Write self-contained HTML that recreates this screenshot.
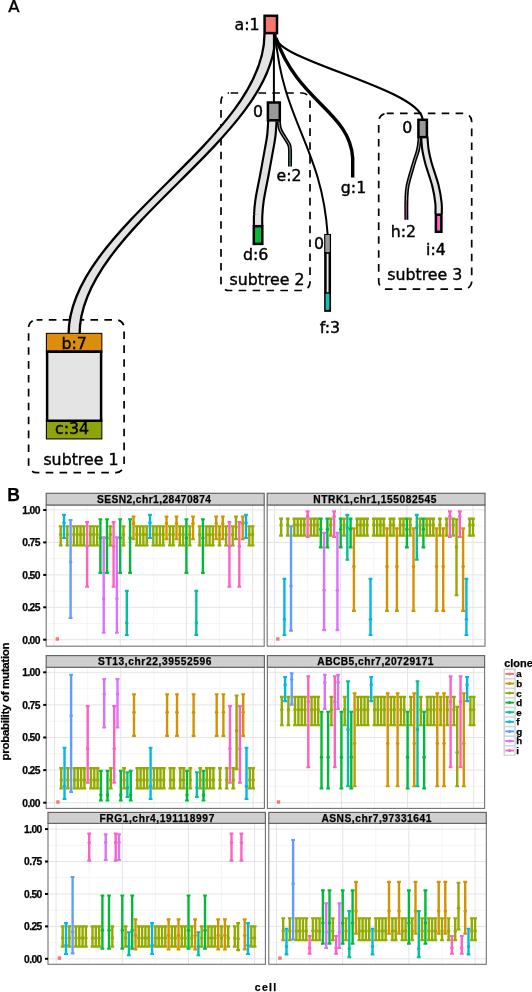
<!DOCTYPE html>
<html><head><meta charset="utf-8"><style>
html,body{margin:0;padding:0;background:#fff;}
svg{display:block;}
</style></head><body>
<svg width="532" height="992" viewBox="0 0 532 992">
<rect width="532" height="992" fill="#fff"/>
<g id="tree">
<rect x="221" y="93" width="89" height="197.5" rx="8" style="fill:none;stroke:#000;stroke-width:1.7;stroke-dasharray:7.6,6.3;stroke-dashoffset:12.3"/>
<rect x="378.7" y="113.4" width="93" height="175.8" rx="8" style="fill:none;stroke:#000;stroke-width:1.7;stroke-dasharray:7.6,6.3;stroke-dashoffset:0.6"/>
<rect x="28.6" y="319.8" width="95.5" height="152.8" rx="8" style="fill:none;stroke:#000;stroke-width:1.7;stroke-dasharray:7.6,6.3;stroke-dashoffset:1.7"/>
<path d="M264.5,34.0 C264.5,138.9 68.6,227.7 68.6,334.0 L79.6,334.0 C79.6,227.7 275.5,138.9 275.5,34.0 Z" style="fill:#e3e3e3;stroke:none"/>
<path d="M264.5,34.0 C264.5,138.9 68.6,227.7 68.6,334.0" style="fill:none;stroke:#000;stroke-width:2.3"/>
<path d="M275.5,34.0 C275.5,138.9 79.6,227.7 79.6,334.0" style="fill:none;stroke:#000;stroke-width:2.3"/>
<path d="M272.4,121.0 C272.2,123.3 271.9,130.4 271.4,135.0 C270.9,139.6 270.4,141.8 269.2,148.4 C268.0,155.0 266.0,166.1 264.4,174.7 C262.8,183.3 260.6,193.3 259.6,200.0 C258.6,206.7 258.4,210.7 258.2,215.0 C257.9,219.3 258.1,224.2 258.1,226.0" style="fill:none;stroke:#000;stroke-width:10.5"/>
<path d="M272.4,121.0 C272.2,123.3 271.9,130.4 271.4,135.0 C270.9,139.6 270.4,141.8 269.2,148.4 C268.0,155.0 266.0,166.1 264.4,174.7 C262.8,183.3 260.6,193.3 259.6,200.0 C258.6,206.7 258.4,210.7 258.2,215.0 C257.9,219.3 258.1,224.2 258.1,226.0" style="fill:none;stroke:#e3e3e3;stroke-width:6.2"/>
<path d="M424.3,137.0 C424.5,139.2 424.8,145.7 425.5,150.0 C426.2,154.3 426.8,157.1 428.4,163.0 C430.0,168.9 433.7,178.9 435.4,185.6 C437.1,192.3 438.0,198.6 438.5,203.3 C439.0,208.0 438.6,212.2 438.6,214.0" style="fill:none;stroke:#000;stroke-width:8.4"/>
<path d="M424.3,137.0 C424.5,139.2 424.8,145.7 425.5,150.0 C426.2,154.3 426.8,157.1 428.4,163.0 C430.0,168.9 433.7,178.9 435.4,185.6 C437.1,192.3 438.0,198.6 438.5,203.3 C439.0,208.0 438.6,212.2 438.6,214.0" style="fill:none;stroke:#e3e3e3;stroke-width:4.2"/>
<path d="M419.8,137.0 C419.5,139.2 419.0,145.7 418.0,150.0 C417.0,154.3 415.6,157.1 413.9,163.0 C412.2,168.9 408.9,179.3 407.6,185.6 C406.4,191.9 406.6,195.1 406.4,200.8 C406.2,206.5 406.4,216.5 406.4,219.7" style="fill:none;stroke:#000;stroke-width:4"/>
<path d="M419.8,137.0 C419.5,139.2 419.0,145.7 418.0,150.0 C417.0,154.3 415.6,157.1 413.9,163.0 C412.2,168.9 408.9,179.3 407.6,185.6 C406.4,191.9 406.6,195.1 406.4,200.8 C406.2,206.5 406.4,216.5 406.4,219.7" style="fill:none;stroke:#e8e8e8;stroke-width:0.7"/>
<line x1="406.4" y1="201" x2="406.4" y2="219" style="stroke:#9a3c78;stroke-width:1"/>
<path d="M278.8,121.0 C279.0,122.3 279.1,126.3 280.0,129.0 C280.9,131.7 283.0,134.4 284.5,137.0 C286.0,139.6 288.1,142.3 289.0,144.5 C289.9,146.7 289.8,146.3 290.0,150.0 C290.2,153.7 290.0,163.8 290.0,166.6" style="fill:none;stroke:#000;stroke-width:4"/>
<path d="M278.8,121.0 C279.0,122.3 279.1,126.3 280.0,129.0 C280.9,131.7 283.0,134.4 284.5,137.0 C286.0,139.6 288.1,142.3 289.0,144.5 C289.9,146.7 289.8,146.3 290.0,150.0 C290.2,153.7 290.0,163.8 290.0,166.6" style="fill:none;stroke:#e8e8e8;stroke-width:0.7"/>
<line x1="290" y1="149" x2="290" y2="165.5" style="stroke:#1a6a38;stroke-width:0.8"/>
<line x1="273.9" y1="34" x2="273.9" y2="102" style="stroke:#000;stroke-width:2"/>
<path d="M275.5,36 C282.7,121.8 321.6,147.2 327.6,234" style="fill:none;stroke:#000;stroke-width:2"/>
<path d="M276,38 C298,102.6 349.9,111.6 352.7,158 L352.7,177.5" style="fill:none;stroke:#000;stroke-width:3.4"/>
<path d="M276.5,38 C276.5,60.1 419,88.9 422.5,119" style="fill:none;stroke:#000;stroke-width:2.2"/>
<rect x="264.6" y="15.8" width="12.4" height="17.3" style="fill:#F8766D;stroke:#000;stroke-width:2.5"/>
<rect x="267.9" y="102.5" width="11.9" height="17.8" style="fill:#999999;stroke:#000;stroke-width:2.5"/>
<rect x="418.4" y="119.8" width="8.5" height="17.3" style="fill:#999999;stroke:#000;stroke-width:2.5"/>
<rect x="253.8" y="226.2" width="8.5" height="17.7" style="fill:#00BA38;stroke:#000;stroke-width:2.5"/>
<rect x="435.9" y="214.7" width="5.5" height="17.1" style="fill:#FF61C3;stroke:#000;stroke-width:2.5"/>
<rect x="325.4" y="235.2" width="4.4" height="75.4" style="fill:#e8e8e8;stroke:#000;stroke-width:2.5"/>
<rect x="325.3" y="235" width="4.5" height="17" style="fill:#999"/>
<line x1="324.1" y1="253" x2="331" y2="253" style="stroke:#000;stroke-width:1.6"/>
<line x1="324.1" y1="293" x2="331" y2="293" style="stroke:#000;stroke-width:1.6"/>
<rect x="325.6" y="293.8" width="3.8" height="16" style="fill:#17bfb2"/>
<rect x="47.1" y="334.1" width="54.0" height="104.1" style="fill:#e4e4e4;stroke:#000;stroke-width:2.5"/>
<rect x="46.9" y="333.8" width="54.5" height="17.2" style="fill:#DB8E0B"/>
<line x1="45.9" y1="351.6" x2="102.4" y2="351.6" style="stroke:#000;stroke-width:2.6"/>
<rect x="46.9" y="421.6" width="54.5" height="16.8" style="fill:#8FA40A"/>
<line x1="45.9" y1="420.8" x2="102.4" y2="420.8" style="stroke:#000;stroke-width:2.6"/>
<text x="8.3" y="12.3" text-anchor="start" style="font-family:'DejaVu Sans',sans-serif;font-size:16.5px;stroke:#000;stroke-width:0.4">A</text>
<text x="234.5" y="30" text-anchor="start" style="font-family:'DejaVu Sans',sans-serif;font-size:15.8px;fill:#000;stroke:#000;stroke-width:0.4">a:1</text>
<text x="253" y="116.5" text-anchor="start" style="font-family:'DejaVu Sans',sans-serif;font-size:15.8px;fill:#000;stroke:#000;stroke-width:0.4">0</text>
<text x="276.5" y="180.8" text-anchor="start" style="font-family:'DejaVu Sans',sans-serif;font-size:15.8px;fill:#000;stroke:#000;stroke-width:0.4">e:2</text>
<text x="340.8" y="193" text-anchor="start" style="font-family:'DejaVu Sans',sans-serif;font-size:15.8px;fill:#000;stroke:#000;stroke-width:0.4">g:1</text>
<text x="243" y="260" text-anchor="start" style="font-family:'DejaVu Sans',sans-serif;font-size:15.8px;fill:#000;stroke:#000;stroke-width:0.4">d:6</text>
<text x="229.5" y="284.7" text-anchor="start" style="font-family:'DejaVu Sans',sans-serif;font-size:15.8px;fill:#000;stroke:#000;stroke-width:0.4">subtree 2</text>
<text x="314" y="249" text-anchor="start" style="font-family:'DejaVu Sans',sans-serif;font-size:15.8px;fill:#000;stroke:#000;stroke-width:0.4">0</text>
<text x="319.8" y="332.6" text-anchor="start" style="font-family:'DejaVu Sans',sans-serif;font-size:15.8px;fill:#000;stroke:#000;stroke-width:0.4">f:3</text>
<text x="402.2" y="133.2" text-anchor="start" style="font-family:'DejaVu Sans',sans-serif;font-size:15.8px;fill:#000;stroke:#000;stroke-width:0.4">0</text>
<text x="390.7" y="236.5" text-anchor="start" style="font-family:'DejaVu Sans',sans-serif;font-size:15.8px;fill:#000;stroke:#000;stroke-width:0.4">h:2</text>
<text x="426" y="255" text-anchor="start" style="font-family:'DejaVu Sans',sans-serif;font-size:15.8px;fill:#000;stroke:#000;stroke-width:0.4">i:4</text>
<text x="387.2" y="279.5" text-anchor="start" style="font-family:'DejaVu Sans',sans-serif;font-size:15.8px;fill:#000;stroke:#000;stroke-width:0.4">subtree 3</text>
<text x="61.4" y="348.7" text-anchor="start" style="font-family:'DejaVu Sans',sans-serif;font-size:15.8px;fill:#000;stroke:#000;stroke-width:0.4">b:7</text>
<text x="55" y="434.2" text-anchor="start" style="font-family:'DejaVu Sans',sans-serif;font-size:15.8px;fill:#000;stroke:#000;stroke-width:0.4">c:34</text>
<text x="43.4" y="464.7" text-anchor="start" style="font-family:'DejaVu Sans',sans-serif;font-size:15.8px;fill:#000;stroke:#000;stroke-width:0.4">subtree 1</text>
</g>
<g id="panelB">
<text x="7.2" y="500.6" style="font-family:'Liberation Sans',Arial,sans-serif;font-weight:bold;fill:#000;stroke:#000;stroke-width:0.25;font-size:17.5px">B</text>
<rect x="46.2" y="505.0" width="218.0" height="141.2" fill="#fff"/>
<line x1="46.2" x2="264.2" y1="623.5" y2="623.5" stroke="#f4f4f4" stroke-width="0.9"/><line x1="46.2" x2="264.2" y1="591.1" y2="591.1" stroke="#f4f4f4" stroke-width="0.9"/><line x1="46.2" x2="264.2" y1="558.6" y2="558.6" stroke="#f4f4f4" stroke-width="0.9"/><line x1="46.2" x2="264.2" y1="526.2" y2="526.2" stroke="#f4f4f4" stroke-width="0.9"/><line y1="505.0" y2="646.2" x1="87.1" x2="87.1" stroke="#f4f4f4" stroke-width="0.9"/><line y1="505.0" y2="646.2" x1="153.3" x2="153.3" stroke="#f4f4f4" stroke-width="0.9"/><line y1="505.0" y2="646.2" x1="219.5" x2="219.5" stroke="#f4f4f4" stroke-width="0.9"/><line x1="46.2" x2="264.2" y1="639.7" y2="639.7" stroke="#e4e4e4" stroke-width="1"/><line x1="46.2" x2="264.2" y1="607.3" y2="607.3" stroke="#e4e4e4" stroke-width="1"/><line x1="46.2" x2="264.2" y1="574.9" y2="574.9" stroke="#e4e4e4" stroke-width="1"/><line x1="46.2" x2="264.2" y1="542.4" y2="542.4" stroke="#e4e4e4" stroke-width="1"/><line x1="46.2" x2="264.2" y1="510.0" y2="510.0" stroke="#e4e4e4" stroke-width="1"/><line y1="505.0" y2="646.2" x1="54.0" x2="54.0" stroke="#e4e4e4" stroke-width="1"/><line y1="505.0" y2="646.2" x1="120.2" x2="120.2" stroke="#e4e4e4" stroke-width="1"/><line y1="505.0" y2="646.2" x1="186.4" x2="186.4" stroke="#e4e4e4" stroke-width="1"/><line y1="505.0" y2="646.2" x1="252.6" x2="252.6" stroke="#e4e4e4" stroke-width="1"/>
<rect x="55.6" y="637.3" width="3.4" height="3.4" fill="#F8766D"/><path d="M60.7,526.3V545.5" stroke="#93AA00" fill="none" stroke-width="2.4"/><path d="M58.8,526.3h3.8M58.8,545.5h3.8" stroke="#93AA00" fill="none" stroke-width="2.1"/><circle cx="60.7" cy="534.6" r="1.75" fill="#93AA00"/><path d="M64.0,514.9V538.0" stroke="#00B9E3" fill="none" stroke-width="2.4"/><path d="M62.1,514.9h3.8M62.1,538.0h3.8" stroke="#00B9E3" fill="none" stroke-width="2.1"/><circle cx="64.0" cy="522.8" r="1.75" fill="#00B9E3"/><path d="M67.3,526.3V545.5" stroke="#93AA00" fill="none" stroke-width="2.4"/><path d="M65.4,526.3h3.8M65.4,545.5h3.8" stroke="#93AA00" fill="none" stroke-width="2.1"/><circle cx="67.3" cy="534.6" r="1.75" fill="#93AA00"/><path d="M70.6,520.0V617.9" stroke="#619CFF" fill="none" stroke-width="2.4"/><path d="M68.7,520.0h3.8M68.7,617.9h3.8" stroke="#619CFF" fill="none" stroke-width="2.1"/><circle cx="70.6" cy="561.9" r="1.75" fill="#619CFF"/><path d="M73.9,526.3V545.5" stroke="#93AA00" fill="none" stroke-width="2.4"/><path d="M72.0,526.3h3.8M72.0,545.5h3.8" stroke="#93AA00" fill="none" stroke-width="2.1"/><circle cx="73.9" cy="534.6" r="1.75" fill="#93AA00"/><path d="M77.2,526.3V545.5" stroke="#93AA00" fill="none" stroke-width="2.4"/><path d="M75.3,526.3h3.8M75.3,545.5h3.8" stroke="#93AA00" fill="none" stroke-width="2.1"/><circle cx="77.2" cy="534.6" r="1.75" fill="#93AA00"/><path d="M80.5,526.3V545.5" stroke="#93AA00" fill="none" stroke-width="2.4"/><path d="M78.6,526.3h3.8M78.6,545.5h3.8" stroke="#93AA00" fill="none" stroke-width="2.1"/><circle cx="80.5" cy="534.6" r="1.75" fill="#93AA00"/><path d="M83.8,526.3V545.5" stroke="#93AA00" fill="none" stroke-width="2.4"/><path d="M81.9,526.3h3.8M81.9,545.5h3.8" stroke="#93AA00" fill="none" stroke-width="2.1"/><circle cx="83.8" cy="534.6" r="1.75" fill="#93AA00"/><path d="M87.1,522.1V586.8" stroke="#FF61C3" fill="none" stroke-width="2.4"/><path d="M85.2,522.1h3.8M85.2,586.8h3.8" stroke="#FF61C3" fill="none" stroke-width="2.1"/><circle cx="87.1" cy="546.3" r="1.75" fill="#FF61C3"/><path d="M90.4,526.3V545.5" stroke="#93AA00" fill="none" stroke-width="2.4"/><path d="M88.5,526.3h3.8M88.5,545.5h3.8" stroke="#93AA00" fill="none" stroke-width="2.1"/><circle cx="90.4" cy="534.6" r="1.75" fill="#93AA00"/><path d="M93.7,526.3V545.5" stroke="#93AA00" fill="none" stroke-width="2.4"/><path d="M91.8,526.3h3.8M91.8,545.5h3.8" stroke="#93AA00" fill="none" stroke-width="2.1"/><circle cx="93.7" cy="534.6" r="1.75" fill="#93AA00"/><path d="M97.1,526.3V545.5" stroke="#93AA00" fill="none" stroke-width="2.4"/><path d="M95.2,526.3h3.8M95.2,545.5h3.8" stroke="#93AA00" fill="none" stroke-width="2.1"/><circle cx="97.1" cy="534.6" r="1.75" fill="#93AA00"/><path d="M100.4,519.2V572.9" stroke="#00BA38" fill="none" stroke-width="2.4"/><path d="M98.5,519.2h3.8M98.5,572.9h3.8" stroke="#00BA38" fill="none" stroke-width="2.1"/><circle cx="100.4" cy="538.0" r="1.75" fill="#00BA38"/><path d="M103.7,537.4V632.8" stroke="#DB72FB" fill="none" stroke-width="2.4"/><path d="M101.8,537.4h3.8M101.8,632.8h3.8" stroke="#DB72FB" fill="none" stroke-width="2.1"/><circle cx="103.7" cy="598.8" r="1.75" fill="#DB72FB"/><path d="M107.0,519.2V572.9" stroke="#00BA38" fill="none" stroke-width="2.4"/><path d="M105.1,519.2h3.8M105.1,572.9h3.8" stroke="#00BA38" fill="none" stroke-width="2.1"/><circle cx="107.0" cy="538.0" r="1.75" fill="#00BA38"/><path d="M110.3,526.3V545.5" stroke="#93AA00" fill="none" stroke-width="2.4"/><path d="M108.4,526.3h3.8M108.4,545.5h3.8" stroke="#93AA00" fill="none" stroke-width="2.1"/><circle cx="110.3" cy="534.6" r="1.75" fill="#93AA00"/><path d="M113.6,522.1V586.8" stroke="#FF61C3" fill="none" stroke-width="2.4"/><path d="M111.7,522.1h3.8M111.7,586.8h3.8" stroke="#FF61C3" fill="none" stroke-width="2.1"/><circle cx="113.6" cy="546.3" r="1.75" fill="#FF61C3"/><path d="M116.9,537.4V632.8" stroke="#DB72FB" fill="none" stroke-width="2.4"/><path d="M115.0,537.4h3.8M115.0,632.8h3.8" stroke="#DB72FB" fill="none" stroke-width="2.1"/><circle cx="116.9" cy="598.8" r="1.75" fill="#DB72FB"/><path d="M120.2,519.2V572.9" stroke="#00BA38" fill="none" stroke-width="2.4"/><path d="M118.3,519.2h3.8M118.3,572.9h3.8" stroke="#00BA38" fill="none" stroke-width="2.1"/><circle cx="120.2" cy="538.0" r="1.75" fill="#00BA38"/><path d="M123.5,526.3V545.5" stroke="#93AA00" fill="none" stroke-width="2.4"/><path d="M121.6,526.3h3.8M121.6,545.5h3.8" stroke="#93AA00" fill="none" stroke-width="2.1"/><circle cx="123.5" cy="534.6" r="1.75" fill="#93AA00"/><path d="M126.8,590.9V635.0" stroke="#00C19F" fill="none" stroke-width="2.4"/><path d="M124.9,590.9h3.8M124.9,635.0h3.8" stroke="#00C19F" fill="none" stroke-width="2.1"/><circle cx="126.8" cy="623.0" r="1.75" fill="#00C19F"/><path d="M130.1,519.2V572.9" stroke="#00BA38" fill="none" stroke-width="2.4"/><path d="M128.2,519.2h3.8M128.2,572.9h3.8" stroke="#00BA38" fill="none" stroke-width="2.1"/><circle cx="130.1" cy="538.0" r="1.75" fill="#00BA38"/><path d="M133.5,516.5V539.2" stroke="#D39200" fill="none" stroke-width="2.4"/><path d="M131.6,516.5h3.8M131.6,539.2h3.8" stroke="#D39200" fill="none" stroke-width="2.1"/><circle cx="133.5" cy="523.5" r="1.75" fill="#D39200"/><path d="M136.8,526.3V545.5" stroke="#93AA00" fill="none" stroke-width="2.4"/><path d="M134.9,526.3h3.8M134.9,545.5h3.8" stroke="#93AA00" fill="none" stroke-width="2.1"/><circle cx="136.8" cy="534.6" r="1.75" fill="#93AA00"/><path d="M140.1,526.3V545.5" stroke="#93AA00" fill="none" stroke-width="2.4"/><path d="M138.2,526.3h3.8M138.2,545.5h3.8" stroke="#93AA00" fill="none" stroke-width="2.1"/><circle cx="140.1" cy="534.6" r="1.75" fill="#93AA00"/><path d="M143.4,526.3V545.5" stroke="#93AA00" fill="none" stroke-width="2.4"/><path d="M141.5,526.3h3.8M141.5,545.5h3.8" stroke="#93AA00" fill="none" stroke-width="2.1"/><circle cx="143.4" cy="534.6" r="1.75" fill="#93AA00"/><path d="M146.7,526.3V545.5" stroke="#93AA00" fill="none" stroke-width="2.4"/><path d="M144.8,526.3h3.8M144.8,545.5h3.8" stroke="#93AA00" fill="none" stroke-width="2.1"/><circle cx="146.7" cy="534.6" r="1.75" fill="#93AA00"/><path d="M150.0,514.9V538.0" stroke="#00B9E3" fill="none" stroke-width="2.4"/><path d="M148.1,514.9h3.8M148.1,538.0h3.8" stroke="#00B9E3" fill="none" stroke-width="2.1"/><circle cx="150.0" cy="522.8" r="1.75" fill="#00B9E3"/><path d="M153.3,526.3V545.5" stroke="#93AA00" fill="none" stroke-width="2.4"/><path d="M151.4,526.3h3.8M151.4,545.5h3.8" stroke="#93AA00" fill="none" stroke-width="2.1"/><circle cx="153.3" cy="534.6" r="1.75" fill="#93AA00"/><path d="M156.6,526.3V545.5" stroke="#93AA00" fill="none" stroke-width="2.4"/><path d="M154.7,526.3h3.8M154.7,545.5h3.8" stroke="#93AA00" fill="none" stroke-width="2.1"/><circle cx="156.6" cy="534.6" r="1.75" fill="#93AA00"/><path d="M159.9,526.3V545.5" stroke="#93AA00" fill="none" stroke-width="2.4"/><path d="M158.0,526.3h3.8M158.0,545.5h3.8" stroke="#93AA00" fill="none" stroke-width="2.1"/><circle cx="159.9" cy="534.6" r="1.75" fill="#93AA00"/><path d="M163.2,526.3V545.5" stroke="#93AA00" fill="none" stroke-width="2.4"/><path d="M161.3,526.3h3.8M161.3,545.5h3.8" stroke="#93AA00" fill="none" stroke-width="2.1"/><circle cx="163.2" cy="534.6" r="1.75" fill="#93AA00"/><path d="M166.5,516.5V539.2" stroke="#D39200" fill="none" stroke-width="2.4"/><path d="M164.6,516.5h3.8M164.6,539.2h3.8" stroke="#D39200" fill="none" stroke-width="2.1"/><circle cx="166.5" cy="523.5" r="1.75" fill="#D39200"/><path d="M169.9,526.3V545.5" stroke="#93AA00" fill="none" stroke-width="2.4"/><path d="M168.0,526.3h3.8M168.0,545.5h3.8" stroke="#93AA00" fill="none" stroke-width="2.1"/><circle cx="169.9" cy="534.6" r="1.75" fill="#93AA00"/><path d="M173.2,526.3V545.5" stroke="#93AA00" fill="none" stroke-width="2.4"/><path d="M171.3,526.3h3.8M171.3,545.5h3.8" stroke="#93AA00" fill="none" stroke-width="2.1"/><circle cx="173.2" cy="534.6" r="1.75" fill="#93AA00"/><path d="M176.5,516.5V539.2" stroke="#D39200" fill="none" stroke-width="2.4"/><path d="M174.6,516.5h3.8M174.6,539.2h3.8" stroke="#D39200" fill="none" stroke-width="2.1"/><circle cx="176.5" cy="523.5" r="1.75" fill="#D39200"/><path d="M179.8,526.3V545.5" stroke="#93AA00" fill="none" stroke-width="2.4"/><path d="M177.9,526.3h3.8M177.9,545.5h3.8" stroke="#93AA00" fill="none" stroke-width="2.1"/><circle cx="179.8" cy="534.6" r="1.75" fill="#93AA00"/><path d="M183.1,526.3V545.5" stroke="#93AA00" fill="none" stroke-width="2.4"/><path d="M181.2,526.3h3.8M181.2,545.5h3.8" stroke="#93AA00" fill="none" stroke-width="2.1"/><circle cx="183.1" cy="534.6" r="1.75" fill="#93AA00"/><path d="M186.4,519.2V572.9" stroke="#00BA38" fill="none" stroke-width="2.4"/><path d="M184.5,519.2h3.8M184.5,572.9h3.8" stroke="#00BA38" fill="none" stroke-width="2.1"/><circle cx="186.4" cy="538.0" r="1.75" fill="#00BA38"/><path d="M189.7,526.3V545.5" stroke="#93AA00" fill="none" stroke-width="2.4"/><path d="M187.8,526.3h3.8M187.8,545.5h3.8" stroke="#93AA00" fill="none" stroke-width="2.1"/><circle cx="189.7" cy="534.6" r="1.75" fill="#93AA00"/><path d="M193.0,516.5V539.2" stroke="#D39200" fill="none" stroke-width="2.4"/><path d="M191.1,516.5h3.8M191.1,539.2h3.8" stroke="#D39200" fill="none" stroke-width="2.1"/><circle cx="193.0" cy="523.5" r="1.75" fill="#D39200"/><path d="M196.3,590.9V635.0" stroke="#00C19F" fill="none" stroke-width="2.4"/><path d="M194.4,590.9h3.8M194.4,635.0h3.8" stroke="#00C19F" fill="none" stroke-width="2.1"/><circle cx="196.3" cy="623.0" r="1.75" fill="#00C19F"/><path d="M199.6,526.3V545.5" stroke="#93AA00" fill="none" stroke-width="2.4"/><path d="M197.7,526.3h3.8M197.7,545.5h3.8" stroke="#93AA00" fill="none" stroke-width="2.1"/><circle cx="199.6" cy="534.6" r="1.75" fill="#93AA00"/><path d="M202.9,519.2V572.9" stroke="#00BA38" fill="none" stroke-width="2.4"/><path d="M201.0,519.2h3.8M201.0,572.9h3.8" stroke="#00BA38" fill="none" stroke-width="2.1"/><circle cx="202.9" cy="538.0" r="1.75" fill="#00BA38"/><path d="M206.3,526.3V545.5" stroke="#93AA00" fill="none" stroke-width="2.4"/><path d="M204.4,526.3h3.8M204.4,545.5h3.8" stroke="#93AA00" fill="none" stroke-width="2.1"/><circle cx="206.3" cy="534.6" r="1.75" fill="#93AA00"/><path d="M209.6,526.3V545.5" stroke="#93AA00" fill="none" stroke-width="2.4"/><path d="M207.7,526.3h3.8M207.7,545.5h3.8" stroke="#93AA00" fill="none" stroke-width="2.1"/><circle cx="209.6" cy="534.6" r="1.75" fill="#93AA00"/><path d="M212.9,526.3V545.5" stroke="#93AA00" fill="none" stroke-width="2.4"/><path d="M211.0,526.3h3.8M211.0,545.5h3.8" stroke="#93AA00" fill="none" stroke-width="2.1"/><circle cx="212.9" cy="534.6" r="1.75" fill="#93AA00"/><path d="M216.2,516.5V539.2" stroke="#D39200" fill="none" stroke-width="2.4"/><path d="M214.3,516.5h3.8M214.3,539.2h3.8" stroke="#D39200" fill="none" stroke-width="2.1"/><circle cx="216.2" cy="523.5" r="1.75" fill="#D39200"/><path d="M219.5,526.3V545.5" stroke="#93AA00" fill="none" stroke-width="2.4"/><path d="M217.6,526.3h3.8M217.6,545.5h3.8" stroke="#93AA00" fill="none" stroke-width="2.1"/><circle cx="219.5" cy="534.6" r="1.75" fill="#93AA00"/><path d="M222.8,516.5V539.2" stroke="#D39200" fill="none" stroke-width="2.4"/><path d="M220.9,516.5h3.8M220.9,539.2h3.8" stroke="#D39200" fill="none" stroke-width="2.1"/><circle cx="222.8" cy="523.5" r="1.75" fill="#D39200"/><path d="M226.1,526.3V545.5" stroke="#93AA00" fill="none" stroke-width="2.4"/><path d="M224.2,526.3h3.8M224.2,545.5h3.8" stroke="#93AA00" fill="none" stroke-width="2.1"/><circle cx="226.1" cy="534.6" r="1.75" fill="#93AA00"/><path d="M229.4,522.1V586.8" stroke="#FF61C3" fill="none" stroke-width="2.4"/><path d="M227.5,522.1h3.8M227.5,586.8h3.8" stroke="#FF61C3" fill="none" stroke-width="2.1"/><circle cx="229.4" cy="546.3" r="1.75" fill="#FF61C3"/><path d="M232.7,526.3V545.5" stroke="#93AA00" fill="none" stroke-width="2.4"/><path d="M230.8,526.3h3.8M230.8,545.5h3.8" stroke="#93AA00" fill="none" stroke-width="2.1"/><circle cx="232.7" cy="534.6" r="1.75" fill="#93AA00"/><path d="M236.0,516.5V539.1" stroke="#93AA00" fill="none" stroke-width="2.4"/><path d="M234.1,516.5h3.8M234.1,539.1h3.8" stroke="#93AA00" fill="none" stroke-width="2.1"/><circle cx="236.0" cy="526.9" r="1.75" fill="#93AA00"/><path d="M239.3,522.1V586.8" stroke="#FF61C3" fill="none" stroke-width="2.4"/><path d="M237.4,522.1h3.8M237.4,586.8h3.8" stroke="#FF61C3" fill="none" stroke-width="2.1"/><circle cx="239.3" cy="546.3" r="1.75" fill="#FF61C3"/><path d="M242.7,516.5V539.2" stroke="#D39200" fill="none" stroke-width="2.4"/><path d="M240.8,516.5h3.8M240.8,539.2h3.8" stroke="#D39200" fill="none" stroke-width="2.1"/><circle cx="242.7" cy="523.5" r="1.75" fill="#D39200"/><path d="M246.0,514.9V538.0" stroke="#00B9E3" fill="none" stroke-width="2.4"/><path d="M244.1,514.9h3.8M244.1,538.0h3.8" stroke="#00B9E3" fill="none" stroke-width="2.1"/><circle cx="246.0" cy="522.8" r="1.75" fill="#00B9E3"/><path d="M249.3,526.3V545.5" stroke="#93AA00" fill="none" stroke-width="2.4"/><path d="M247.4,526.3h3.8M247.4,545.5h3.8" stroke="#93AA00" fill="none" stroke-width="2.1"/><circle cx="249.3" cy="534.6" r="1.75" fill="#93AA00"/><path d="M252.6,526.3V545.5" stroke="#93AA00" fill="none" stroke-width="2.4"/><path d="M250.7,526.3h3.8M250.7,545.5h3.8" stroke="#93AA00" fill="none" stroke-width="2.1"/><circle cx="252.6" cy="534.6" r="1.75" fill="#93AA00"/>
<rect x="46.2" y="505.0" width="218.0" height="141.2" fill="none" stroke="#737373" stroke-width="1.1"/>
<rect x="46.2" y="493.3" width="218.0" height="11.7" fill="#cfcfcf" stroke="#666" stroke-width="1.2"/>
<text x="96.9" y="502.8" textLength="114.1" style="font-family:'Liberation Sans',Arial,sans-serif;font-weight:bold;fill:#000;stroke:#000;stroke-width:0.25;font-size:10.2px">SESN2,chr1,28470874</text>
<line x1="43.2" x2="46.2" y1="639.7" y2="639.7" stroke="#000" stroke-width="2"/><text x="22.3" y="643.5" textLength="18.1" style="font-family:'Liberation Sans',Arial,sans-serif;font-weight:bold;fill:#000;stroke:#000;stroke-width:0.25;font-size:10.3px">0.00</text><line x1="43.2" x2="46.2" y1="607.3" y2="607.3" stroke="#000" stroke-width="2"/><text x="22.3" y="611.1" textLength="18.1" style="font-family:'Liberation Sans',Arial,sans-serif;font-weight:bold;fill:#000;stroke:#000;stroke-width:0.25;font-size:10.3px">0.25</text><line x1="43.2" x2="46.2" y1="574.9" y2="574.9" stroke="#000" stroke-width="2"/><text x="22.3" y="578.6" textLength="18.1" style="font-family:'Liberation Sans',Arial,sans-serif;font-weight:bold;fill:#000;stroke:#000;stroke-width:0.25;font-size:10.3px">0.50</text><line x1="43.2" x2="46.2" y1="542.4" y2="542.4" stroke="#000" stroke-width="2"/><text x="22.3" y="546.2" textLength="18.1" style="font-family:'Liberation Sans',Arial,sans-serif;font-weight:bold;fill:#000;stroke:#000;stroke-width:0.25;font-size:10.3px">0.75</text><line x1="43.2" x2="46.2" y1="510.0" y2="510.0" stroke="#000" stroke-width="2"/><text x="22.3" y="513.8" textLength="18.1" style="font-family:'Liberation Sans',Arial,sans-serif;font-weight:bold;fill:#000;stroke:#000;stroke-width:0.25;font-size:10.3px">1.00</text>
<rect x="267.2" y="505.0" width="217.8" height="141.2" fill="#fff"/>
<line x1="267.2" x2="485.0" y1="623.5" y2="623.5" stroke="#f4f4f4" stroke-width="0.9"/><line x1="267.2" x2="485.0" y1="591.1" y2="591.1" stroke="#f4f4f4" stroke-width="0.9"/><line x1="267.2" x2="485.0" y1="558.6" y2="558.6" stroke="#f4f4f4" stroke-width="0.9"/><line x1="267.2" x2="485.0" y1="526.2" y2="526.2" stroke="#f4f4f4" stroke-width="0.9"/><line y1="505.0" y2="646.2" x1="307.6" x2="307.6" stroke="#f4f4f4" stroke-width="0.9"/><line y1="505.0" y2="646.2" x1="373.8" x2="373.8" stroke="#f4f4f4" stroke-width="0.9"/><line y1="505.0" y2="646.2" x1="439.9" x2="439.9" stroke="#f4f4f4" stroke-width="0.9"/><line x1="267.2" x2="485.0" y1="639.7" y2="639.7" stroke="#e4e4e4" stroke-width="1"/><line x1="267.2" x2="485.0" y1="607.3" y2="607.3" stroke="#e4e4e4" stroke-width="1"/><line x1="267.2" x2="485.0" y1="574.9" y2="574.9" stroke="#e4e4e4" stroke-width="1"/><line x1="267.2" x2="485.0" y1="542.4" y2="542.4" stroke="#e4e4e4" stroke-width="1"/><line x1="267.2" x2="485.0" y1="510.0" y2="510.0" stroke="#e4e4e4" stroke-width="1"/><line y1="505.0" y2="646.2" x1="274.5" x2="274.5" stroke="#e4e4e4" stroke-width="1"/><line y1="505.0" y2="646.2" x1="340.7" x2="340.7" stroke="#e4e4e4" stroke-width="1"/><line y1="505.0" y2="646.2" x1="406.9" x2="406.9" stroke="#e4e4e4" stroke-width="1"/><line y1="505.0" y2="646.2" x1="473.0" x2="473.0" stroke="#e4e4e4" stroke-width="1"/>
<rect x="276.1" y="637.3" width="3.4" height="3.4" fill="#F8766D"/><path d="M281.1,518.6V535.6" stroke="#93AA00" fill="none" stroke-width="2.4"/><path d="M279.2,518.6h3.8M279.2,535.6h3.8" stroke="#93AA00" fill="none" stroke-width="2.1"/><circle cx="281.1" cy="524.9" r="1.75" fill="#93AA00"/><path d="M284.4,578.9V635.0" stroke="#00B9E3" fill="none" stroke-width="2.4"/><path d="M282.5,578.9h3.8M282.5,635.0h3.8" stroke="#00B9E3" fill="none" stroke-width="2.1"/><circle cx="284.4" cy="619.3" r="1.75" fill="#00B9E3"/><path d="M287.7,518.6V535.6" stroke="#93AA00" fill="none" stroke-width="2.4"/><path d="M285.8,518.6h3.8M285.8,535.6h3.8" stroke="#93AA00" fill="none" stroke-width="2.1"/><circle cx="287.7" cy="524.9" r="1.75" fill="#93AA00"/><path d="M291.0,526.3V630.8" stroke="#619CFF" fill="none" stroke-width="2.4"/><path d="M289.1,526.3h3.8M289.1,630.8h3.8" stroke="#619CFF" fill="none" stroke-width="2.1"/><circle cx="291.0" cy="586.0" r="1.75" fill="#619CFF"/><path d="M294.3,518.6V535.6" stroke="#93AA00" fill="none" stroke-width="2.4"/><path d="M292.4,518.6h3.8M292.4,535.6h3.8" stroke="#93AA00" fill="none" stroke-width="2.1"/><circle cx="294.3" cy="524.9" r="1.75" fill="#93AA00"/><path d="M297.7,518.6V535.6" stroke="#93AA00" fill="none" stroke-width="2.4"/><path d="M295.8,518.6h3.8M295.8,535.6h3.8" stroke="#93AA00" fill="none" stroke-width="2.1"/><circle cx="297.7" cy="524.9" r="1.75" fill="#93AA00"/><path d="M301.0,518.6V535.6" stroke="#93AA00" fill="none" stroke-width="2.4"/><path d="M299.1,518.6h3.8M299.1,535.6h3.8" stroke="#93AA00" fill="none" stroke-width="2.1"/><circle cx="301.0" cy="524.9" r="1.75" fill="#93AA00"/><path d="M304.3,518.6V535.6" stroke="#93AA00" fill="none" stroke-width="2.4"/><path d="M302.4,518.6h3.8M302.4,535.6h3.8" stroke="#93AA00" fill="none" stroke-width="2.1"/><circle cx="304.3" cy="524.9" r="1.75" fill="#93AA00"/><path d="M307.6,511.4V537.0" stroke="#FF61C3" fill="none" stroke-width="2.4"/><path d="M305.7,511.4h3.8M305.7,537.0h3.8" stroke="#FF61C3" fill="none" stroke-width="2.1"/><circle cx="307.6" cy="516.4" r="1.75" fill="#FF61C3"/><path d="M310.9,518.6V535.6" stroke="#93AA00" fill="none" stroke-width="2.4"/><path d="M309.0,518.6h3.8M309.0,535.6h3.8" stroke="#93AA00" fill="none" stroke-width="2.1"/><circle cx="310.9" cy="524.9" r="1.75" fill="#93AA00"/><path d="M314.2,518.6V535.6" stroke="#93AA00" fill="none" stroke-width="2.4"/><path d="M312.3,518.6h3.8M312.3,535.6h3.8" stroke="#93AA00" fill="none" stroke-width="2.1"/><circle cx="314.2" cy="524.9" r="1.75" fill="#93AA00"/><path d="M317.5,518.6V535.6" stroke="#93AA00" fill="none" stroke-width="2.4"/><path d="M315.6,518.6h3.8M315.6,535.6h3.8" stroke="#93AA00" fill="none" stroke-width="2.1"/><circle cx="317.5" cy="524.9" r="1.75" fill="#93AA00"/><path d="M320.8,518.6V547.4" stroke="#00BA38" fill="none" stroke-width="2.4"/><path d="M318.9,518.6h3.8M318.9,547.4h3.8" stroke="#00BA38" fill="none" stroke-width="2.1"/><circle cx="320.8" cy="529.2" r="1.75" fill="#00BA38"/><path d="M324.1,532.7V630.1" stroke="#DB72FB" fill="none" stroke-width="2.4"/><path d="M322.2,532.7h3.8M322.2,630.1h3.8" stroke="#DB72FB" fill="none" stroke-width="2.1"/><circle cx="324.1" cy="590.3" r="1.75" fill="#DB72FB"/><path d="M327.4,518.6V547.4" stroke="#00BA38" fill="none" stroke-width="2.4"/><path d="M325.5,518.6h3.8M325.5,547.4h3.8" stroke="#00BA38" fill="none" stroke-width="2.1"/><circle cx="327.4" cy="529.2" r="1.75" fill="#00BA38"/><path d="M330.7,518.6V535.6" stroke="#93AA00" fill="none" stroke-width="2.4"/><path d="M328.8,518.6h3.8M328.8,535.6h3.8" stroke="#93AA00" fill="none" stroke-width="2.1"/><circle cx="330.7" cy="524.9" r="1.75" fill="#93AA00"/><path d="M334.1,511.4V537.0" stroke="#FF61C3" fill="none" stroke-width="2.4"/><path d="M332.2,511.4h3.8M332.2,537.0h3.8" stroke="#FF61C3" fill="none" stroke-width="2.1"/><circle cx="334.1" cy="516.4" r="1.75" fill="#FF61C3"/><path d="M337.4,532.7V630.1" stroke="#DB72FB" fill="none" stroke-width="2.4"/><path d="M335.5,532.7h3.8M335.5,630.1h3.8" stroke="#DB72FB" fill="none" stroke-width="2.1"/><circle cx="337.4" cy="590.3" r="1.75" fill="#DB72FB"/><path d="M340.7,518.6V547.4" stroke="#00BA38" fill="none" stroke-width="2.4"/><path d="M338.8,518.6h3.8M338.8,547.4h3.8" stroke="#00BA38" fill="none" stroke-width="2.1"/><circle cx="340.7" cy="529.2" r="1.75" fill="#00BA38"/><path d="M344.0,518.6V535.6" stroke="#93AA00" fill="none" stroke-width="2.4"/><path d="M342.1,518.6h3.8M342.1,535.6h3.8" stroke="#93AA00" fill="none" stroke-width="2.1"/><circle cx="344.0" cy="524.9" r="1.75" fill="#93AA00"/><path d="M347.3,514.9V559.7" stroke="#00C19F" fill="none" stroke-width="2.4"/><path d="M345.4,514.9h3.8M345.4,559.7h3.8" stroke="#00C19F" fill="none" stroke-width="2.1"/><circle cx="347.3" cy="527.8" r="1.75" fill="#00C19F"/><path d="M350.6,518.6V547.4" stroke="#00BA38" fill="none" stroke-width="2.4"/><path d="M348.7,518.6h3.8M348.7,547.4h3.8" stroke="#00BA38" fill="none" stroke-width="2.1"/><circle cx="350.6" cy="529.2" r="1.75" fill="#00BA38"/><path d="M353.9,528.4V610.9" stroke="#D39200" fill="none" stroke-width="2.4"/><path d="M352.0,528.4h3.8M352.0,610.9h3.8" stroke="#D39200" fill="none" stroke-width="2.1"/><circle cx="353.9" cy="566.4" r="1.75" fill="#D39200"/><path d="M357.2,518.6V535.6" stroke="#93AA00" fill="none" stroke-width="2.4"/><path d="M355.3,518.6h3.8M355.3,535.6h3.8" stroke="#93AA00" fill="none" stroke-width="2.1"/><circle cx="357.2" cy="524.9" r="1.75" fill="#93AA00"/><path d="M360.5,518.6V535.6" stroke="#93AA00" fill="none" stroke-width="2.4"/><path d="M358.6,518.6h3.8M358.6,535.6h3.8" stroke="#93AA00" fill="none" stroke-width="2.1"/><circle cx="360.5" cy="524.9" r="1.75" fill="#93AA00"/><path d="M363.8,518.6V535.6" stroke="#93AA00" fill="none" stroke-width="2.4"/><path d="M361.9,518.6h3.8M361.9,535.6h3.8" stroke="#93AA00" fill="none" stroke-width="2.1"/><circle cx="363.8" cy="524.9" r="1.75" fill="#93AA00"/><path d="M367.1,518.6V535.6" stroke="#93AA00" fill="none" stroke-width="2.4"/><path d="M365.2,518.6h3.8M365.2,535.6h3.8" stroke="#93AA00" fill="none" stroke-width="2.1"/><circle cx="367.1" cy="524.9" r="1.75" fill="#93AA00"/><path d="M370.5,578.9V635.0" stroke="#00B9E3" fill="none" stroke-width="2.4"/><path d="M368.6,578.9h3.8M368.6,635.0h3.8" stroke="#00B9E3" fill="none" stroke-width="2.1"/><circle cx="370.5" cy="619.3" r="1.75" fill="#00B9E3"/><path d="M373.8,518.6V535.6" stroke="#93AA00" fill="none" stroke-width="2.4"/><path d="M371.9,518.6h3.8M371.9,535.6h3.8" stroke="#93AA00" fill="none" stroke-width="2.1"/><circle cx="373.8" cy="524.9" r="1.75" fill="#93AA00"/><path d="M377.1,518.6V535.6" stroke="#93AA00" fill="none" stroke-width="2.4"/><path d="M375.2,518.6h3.8M375.2,535.6h3.8" stroke="#93AA00" fill="none" stroke-width="2.1"/><circle cx="377.1" cy="524.9" r="1.75" fill="#93AA00"/><path d="M380.4,518.6V535.6" stroke="#93AA00" fill="none" stroke-width="2.4"/><path d="M378.5,518.6h3.8M378.5,535.6h3.8" stroke="#93AA00" fill="none" stroke-width="2.1"/><circle cx="380.4" cy="524.9" r="1.75" fill="#93AA00"/><path d="M383.7,518.6V535.6" stroke="#93AA00" fill="none" stroke-width="2.4"/><path d="M381.8,518.6h3.8M381.8,535.6h3.8" stroke="#93AA00" fill="none" stroke-width="2.1"/><circle cx="383.7" cy="524.9" r="1.75" fill="#93AA00"/><path d="M387.0,528.4V610.9" stroke="#D39200" fill="none" stroke-width="2.4"/><path d="M385.1,528.4h3.8M385.1,610.9h3.8" stroke="#D39200" fill="none" stroke-width="2.1"/><circle cx="387.0" cy="566.4" r="1.75" fill="#D39200"/><path d="M390.3,518.6V535.6" stroke="#93AA00" fill="none" stroke-width="2.4"/><path d="M388.4,518.6h3.8M388.4,535.6h3.8" stroke="#93AA00" fill="none" stroke-width="2.1"/><circle cx="390.3" cy="524.9" r="1.75" fill="#93AA00"/><path d="M393.6,518.6V535.6" stroke="#93AA00" fill="none" stroke-width="2.4"/><path d="M391.7,518.6h3.8M391.7,535.6h3.8" stroke="#93AA00" fill="none" stroke-width="2.1"/><circle cx="393.6" cy="524.9" r="1.75" fill="#93AA00"/><path d="M396.9,528.4V610.9" stroke="#D39200" fill="none" stroke-width="2.4"/><path d="M395.0,528.4h3.8M395.0,610.9h3.8" stroke="#D39200" fill="none" stroke-width="2.1"/><circle cx="396.9" cy="566.4" r="1.75" fill="#D39200"/><path d="M400.2,518.6V535.6" stroke="#93AA00" fill="none" stroke-width="2.4"/><path d="M398.3,518.6h3.8M398.3,535.6h3.8" stroke="#93AA00" fill="none" stroke-width="2.1"/><circle cx="400.2" cy="524.9" r="1.75" fill="#93AA00"/><path d="M403.5,518.6V535.6" stroke="#93AA00" fill="none" stroke-width="2.4"/><path d="M401.6,518.6h3.8M401.6,535.6h3.8" stroke="#93AA00" fill="none" stroke-width="2.1"/><circle cx="403.5" cy="524.9" r="1.75" fill="#93AA00"/><path d="M406.9,518.6V547.4" stroke="#00BA38" fill="none" stroke-width="2.4"/><path d="M405.0,518.6h3.8M405.0,547.4h3.8" stroke="#00BA38" fill="none" stroke-width="2.1"/><circle cx="406.9" cy="529.2" r="1.75" fill="#00BA38"/><path d="M410.2,518.6V535.6" stroke="#93AA00" fill="none" stroke-width="2.4"/><path d="M408.3,518.6h3.8M408.3,535.6h3.8" stroke="#93AA00" fill="none" stroke-width="2.1"/><circle cx="410.2" cy="524.9" r="1.75" fill="#93AA00"/><path d="M413.5,528.4V610.9" stroke="#D39200" fill="none" stroke-width="2.4"/><path d="M411.6,528.4h3.8M411.6,610.9h3.8" stroke="#D39200" fill="none" stroke-width="2.1"/><circle cx="413.5" cy="566.4" r="1.75" fill="#D39200"/><path d="M416.8,514.9V559.7" stroke="#00C19F" fill="none" stroke-width="2.4"/><path d="M414.9,514.9h3.8M414.9,559.7h3.8" stroke="#00C19F" fill="none" stroke-width="2.1"/><circle cx="416.8" cy="527.8" r="1.75" fill="#00C19F"/><path d="M420.1,518.6V535.6" stroke="#93AA00" fill="none" stroke-width="2.4"/><path d="M418.2,518.6h3.8M418.2,535.6h3.8" stroke="#93AA00" fill="none" stroke-width="2.1"/><circle cx="420.1" cy="524.9" r="1.75" fill="#93AA00"/><path d="M423.4,518.6V547.4" stroke="#00BA38" fill="none" stroke-width="2.4"/><path d="M421.5,518.6h3.8M421.5,547.4h3.8" stroke="#00BA38" fill="none" stroke-width="2.1"/><circle cx="423.4" cy="529.2" r="1.75" fill="#00BA38"/><path d="M426.7,518.6V535.6" stroke="#93AA00" fill="none" stroke-width="2.4"/><path d="M424.8,518.6h3.8M424.8,535.6h3.8" stroke="#93AA00" fill="none" stroke-width="2.1"/><circle cx="426.7" cy="524.9" r="1.75" fill="#93AA00"/><path d="M430.0,518.6V535.6" stroke="#93AA00" fill="none" stroke-width="2.4"/><path d="M428.1,518.6h3.8M428.1,535.6h3.8" stroke="#93AA00" fill="none" stroke-width="2.1"/><circle cx="430.0" cy="524.9" r="1.75" fill="#93AA00"/><path d="M433.3,518.6V535.6" stroke="#93AA00" fill="none" stroke-width="2.4"/><path d="M431.4,518.6h3.8M431.4,535.6h3.8" stroke="#93AA00" fill="none" stroke-width="2.1"/><circle cx="433.3" cy="524.9" r="1.75" fill="#93AA00"/><path d="M436.6,528.4V610.9" stroke="#D39200" fill="none" stroke-width="2.4"/><path d="M434.7,528.4h3.8M434.7,610.9h3.8" stroke="#D39200" fill="none" stroke-width="2.1"/><circle cx="436.6" cy="566.4" r="1.75" fill="#D39200"/><path d="M439.9,518.6V535.6" stroke="#93AA00" fill="none" stroke-width="2.4"/><path d="M438.0,518.6h3.8M438.0,535.6h3.8" stroke="#93AA00" fill="none" stroke-width="2.1"/><circle cx="439.9" cy="524.9" r="1.75" fill="#93AA00"/><path d="M443.2,528.4V610.9" stroke="#D39200" fill="none" stroke-width="2.4"/><path d="M441.4,528.4h3.8M441.4,610.9h3.8" stroke="#D39200" fill="none" stroke-width="2.1"/><circle cx="443.2" cy="566.4" r="1.75" fill="#D39200"/><path d="M446.6,518.6V535.6" stroke="#93AA00" fill="none" stroke-width="2.4"/><path d="M444.7,518.6h3.8M444.7,535.6h3.8" stroke="#93AA00" fill="none" stroke-width="2.1"/><circle cx="446.6" cy="524.9" r="1.75" fill="#93AA00"/><path d="M449.9,511.4V537.0" stroke="#FF61C3" fill="none" stroke-width="2.4"/><path d="M448.0,511.4h3.8M448.0,537.0h3.8" stroke="#FF61C3" fill="none" stroke-width="2.1"/><circle cx="449.9" cy="516.4" r="1.75" fill="#FF61C3"/><path d="M453.2,518.6V535.6" stroke="#93AA00" fill="none" stroke-width="2.4"/><path d="M451.3,518.6h3.8M451.3,535.6h3.8" stroke="#93AA00" fill="none" stroke-width="2.1"/><circle cx="453.2" cy="524.9" r="1.75" fill="#93AA00"/><path d="M456.5,519.2V595.2" stroke="#93AA00" fill="none" stroke-width="2.4"/><path d="M454.6,519.2h3.8M454.6,595.2h3.8" stroke="#93AA00" fill="none" stroke-width="2.1"/><circle cx="456.5" cy="547.0" r="1.75" fill="#93AA00"/><path d="M459.8,511.4V537.0" stroke="#FF61C3" fill="none" stroke-width="2.4"/><path d="M457.9,511.4h3.8M457.9,537.0h3.8" stroke="#FF61C3" fill="none" stroke-width="2.1"/><circle cx="459.8" cy="516.4" r="1.75" fill="#FF61C3"/><path d="M463.1,528.4V610.9" stroke="#D39200" fill="none" stroke-width="2.4"/><path d="M461.2,528.4h3.8M461.2,610.9h3.8" stroke="#D39200" fill="none" stroke-width="2.1"/><circle cx="463.1" cy="566.4" r="1.75" fill="#D39200"/><path d="M466.4,578.9V635.0" stroke="#00B9E3" fill="none" stroke-width="2.4"/><path d="M464.5,578.9h3.8M464.5,635.0h3.8" stroke="#00B9E3" fill="none" stroke-width="2.1"/><circle cx="466.4" cy="619.3" r="1.75" fill="#00B9E3"/><path d="M469.7,518.6V535.6" stroke="#93AA00" fill="none" stroke-width="2.4"/><path d="M467.8,518.6h3.8M467.8,535.6h3.8" stroke="#93AA00" fill="none" stroke-width="2.1"/><circle cx="469.7" cy="524.9" r="1.75" fill="#93AA00"/><path d="M473.0,518.6V535.6" stroke="#93AA00" fill="none" stroke-width="2.4"/><path d="M471.1,518.6h3.8M471.1,535.6h3.8" stroke="#93AA00" fill="none" stroke-width="2.1"/><circle cx="473.0" cy="524.9" r="1.75" fill="#93AA00"/>
<rect x="267.2" y="505.0" width="217.8" height="141.2" fill="none" stroke="#737373" stroke-width="1.1"/>
<rect x="267.2" y="493.3" width="217.8" height="11.7" fill="#cfcfcf" stroke="#666" stroke-width="1.2"/>
<text x="313.2" y="502.8" textLength="123.2" style="font-family:'Liberation Sans',Arial,sans-serif;font-weight:bold;fill:#000;stroke:#000;stroke-width:0.25;font-size:10.2px">NTRK1,chr1,155082545</text>
<rect x="46.2" y="667.3" width="218.2" height="141.1" fill="#fff"/>
<line x1="46.2" x2="264.4" y1="786.4" y2="786.4" stroke="#f4f4f4" stroke-width="0.9"/><line x1="46.2" x2="264.4" y1="753.8" y2="753.8" stroke="#f4f4f4" stroke-width="0.9"/><line x1="46.2" x2="264.4" y1="721.2" y2="721.2" stroke="#f4f4f4" stroke-width="0.9"/><line x1="46.2" x2="264.4" y1="688.6" y2="688.6" stroke="#f4f4f4" stroke-width="0.9"/><line y1="667.3" y2="808.4" x1="87.7" x2="87.7" stroke="#f4f4f4" stroke-width="0.9"/><line y1="667.3" y2="808.4" x1="153.9" x2="153.9" stroke="#f4f4f4" stroke-width="0.9"/><line y1="667.3" y2="808.4" x1="220.0" x2="220.0" stroke="#f4f4f4" stroke-width="0.9"/><line x1="46.2" x2="264.4" y1="802.7" y2="802.7" stroke="#e4e4e4" stroke-width="1"/><line x1="46.2" x2="264.4" y1="770.1" y2="770.1" stroke="#e4e4e4" stroke-width="1"/><line x1="46.2" x2="264.4" y1="737.5" y2="737.5" stroke="#e4e4e4" stroke-width="1"/><line x1="46.2" x2="264.4" y1="704.9" y2="704.9" stroke="#e4e4e4" stroke-width="1"/><line x1="46.2" x2="264.4" y1="672.3" y2="672.3" stroke="#e4e4e4" stroke-width="1"/><line y1="667.3" y2="808.4" x1="54.6" x2="54.6" stroke="#e4e4e4" stroke-width="1"/><line y1="667.3" y2="808.4" x1="120.8" x2="120.8" stroke="#e4e4e4" stroke-width="1"/><line y1="667.3" y2="808.4" x1="187.0" x2="187.0" stroke="#e4e4e4" stroke-width="1"/><line y1="667.3" y2="808.4" x1="253.1" x2="253.1" stroke="#e4e4e4" stroke-width="1"/>
<rect x="56.2" y="800.3" width="3.4" height="3.4" fill="#F8766D"/><path d="M61.2,768.1V788.5" stroke="#93AA00" fill="none" stroke-width="2.4"/><path d="M59.3,768.1h3.8M59.3,788.5h3.8" stroke="#93AA00" fill="none" stroke-width="2.1"/><circle cx="61.2" cy="779.9" r="1.75" fill="#93AA00"/><path d="M64.5,747.7V799.0" stroke="#00B9E3" fill="none" stroke-width="2.4"/><path d="M62.6,747.7h3.8M62.6,799.0h3.8" stroke="#00B9E3" fill="none" stroke-width="2.1"/><circle cx="64.5" cy="786.3" r="1.75" fill="#00B9E3"/><path d="M67.8,768.1V788.5" stroke="#93AA00" fill="none" stroke-width="2.4"/><path d="M65.9,768.1h3.8M65.9,788.5h3.8" stroke="#93AA00" fill="none" stroke-width="2.1"/><circle cx="67.8" cy="779.9" r="1.75" fill="#93AA00"/><path d="M71.1,674.8V792.0" stroke="#619CFF" fill="none" stroke-width="2.4"/><path d="M69.2,674.8h3.8M69.2,792.0h3.8" stroke="#619CFF" fill="none" stroke-width="2.1"/><circle cx="71.1" cy="715.7" r="1.75" fill="#619CFF"/><path d="M74.4,768.1V788.5" stroke="#93AA00" fill="none" stroke-width="2.4"/><path d="M72.5,768.1h3.8M72.5,788.5h3.8" stroke="#93AA00" fill="none" stroke-width="2.1"/><circle cx="74.4" cy="779.9" r="1.75" fill="#93AA00"/><path d="M77.8,768.1V788.5" stroke="#93AA00" fill="none" stroke-width="2.4"/><path d="M75.9,768.1h3.8M75.9,788.5h3.8" stroke="#93AA00" fill="none" stroke-width="2.1"/><circle cx="77.8" cy="779.9" r="1.75" fill="#93AA00"/><path d="M81.1,768.1V788.5" stroke="#93AA00" fill="none" stroke-width="2.4"/><path d="M79.2,768.1h3.8M79.2,788.5h3.8" stroke="#93AA00" fill="none" stroke-width="2.1"/><circle cx="81.1" cy="779.9" r="1.75" fill="#93AA00"/><path d="M84.4,768.1V788.5" stroke="#93AA00" fill="none" stroke-width="2.4"/><path d="M82.5,768.1h3.8M82.5,788.5h3.8" stroke="#93AA00" fill="none" stroke-width="2.1"/><circle cx="84.4" cy="779.9" r="1.75" fill="#93AA00"/><path d="M87.7,706.1V782.7" stroke="#FF61C3" fill="none" stroke-width="2.4"/><path d="M85.8,706.1h3.8M85.8,782.7h3.8" stroke="#FF61C3" fill="none" stroke-width="2.1"/><circle cx="87.7" cy="748.7" r="1.75" fill="#FF61C3"/><path d="M91.0,768.1V788.5" stroke="#93AA00" fill="none" stroke-width="2.4"/><path d="M89.1,768.1h3.8M89.1,788.5h3.8" stroke="#93AA00" fill="none" stroke-width="2.1"/><circle cx="91.0" cy="779.9" r="1.75" fill="#93AA00"/><path d="M94.3,768.1V788.5" stroke="#93AA00" fill="none" stroke-width="2.4"/><path d="M92.4,768.1h3.8M92.4,788.5h3.8" stroke="#93AA00" fill="none" stroke-width="2.1"/><circle cx="94.3" cy="779.9" r="1.75" fill="#93AA00"/><path d="M97.6,768.1V788.5" stroke="#93AA00" fill="none" stroke-width="2.4"/><path d="M95.7,768.1h3.8M95.7,788.5h3.8" stroke="#93AA00" fill="none" stroke-width="2.1"/><circle cx="97.6" cy="779.9" r="1.75" fill="#93AA00"/><path d="M100.9,770.8V800.5" stroke="#00BA38" fill="none" stroke-width="2.4"/><path d="M99.0,770.8h3.8M99.0,800.5h3.8" stroke="#00BA38" fill="none" stroke-width="2.1"/><circle cx="100.9" cy="794.9" r="1.75" fill="#00BA38"/><path d="M104.2,679.1V727.5" stroke="#DB72FB" fill="none" stroke-width="2.4"/><path d="M102.3,679.1h3.8M102.3,727.5h3.8" stroke="#DB72FB" fill="none" stroke-width="2.1"/><circle cx="104.2" cy="694.1" r="1.75" fill="#DB72FB"/><path d="M107.5,770.8V800.5" stroke="#00BA38" fill="none" stroke-width="2.4"/><path d="M105.6,770.8h3.8M105.6,800.5h3.8" stroke="#00BA38" fill="none" stroke-width="2.1"/><circle cx="107.5" cy="794.9" r="1.75" fill="#00BA38"/><path d="M110.8,768.1V788.5" stroke="#93AA00" fill="none" stroke-width="2.4"/><path d="M108.9,768.1h3.8M108.9,788.5h3.8" stroke="#93AA00" fill="none" stroke-width="2.1"/><circle cx="110.8" cy="779.9" r="1.75" fill="#93AA00"/><path d="M114.2,706.1V782.7" stroke="#FF61C3" fill="none" stroke-width="2.4"/><path d="M112.3,706.1h3.8M112.3,782.7h3.8" stroke="#FF61C3" fill="none" stroke-width="2.1"/><circle cx="114.2" cy="748.7" r="1.75" fill="#FF61C3"/><path d="M117.5,679.1V727.5" stroke="#DB72FB" fill="none" stroke-width="2.4"/><path d="M115.6,679.1h3.8M115.6,727.5h3.8" stroke="#DB72FB" fill="none" stroke-width="2.1"/><circle cx="117.5" cy="694.1" r="1.75" fill="#DB72FB"/><path d="M120.8,770.8V800.5" stroke="#00BA38" fill="none" stroke-width="2.4"/><path d="M118.9,770.8h3.8M118.9,800.5h3.8" stroke="#00BA38" fill="none" stroke-width="2.1"/><circle cx="120.8" cy="794.9" r="1.75" fill="#00BA38"/><path d="M124.1,768.1V788.5" stroke="#93AA00" fill="none" stroke-width="2.4"/><path d="M122.2,768.1h3.8M122.2,788.5h3.8" stroke="#93AA00" fill="none" stroke-width="2.1"/><circle cx="124.1" cy="779.9" r="1.75" fill="#93AA00"/><path d="M127.4,772.2V797.0" stroke="#00C19F" fill="none" stroke-width="2.4"/><path d="M125.5,772.2h3.8M125.5,797.0h3.8" stroke="#00C19F" fill="none" stroke-width="2.1"/><circle cx="127.4" cy="787.7" r="1.75" fill="#00C19F"/><path d="M130.7,770.8V800.5" stroke="#00BA38" fill="none" stroke-width="2.4"/><path d="M128.8,770.8h3.8M128.8,800.5h3.8" stroke="#00BA38" fill="none" stroke-width="2.1"/><circle cx="130.7" cy="794.9" r="1.75" fill="#00BA38"/><path d="M134.0,694.3V735.9" stroke="#D39200" fill="none" stroke-width="2.4"/><path d="M132.1,694.3h3.8M132.1,735.9h3.8" stroke="#D39200" fill="none" stroke-width="2.1"/><circle cx="134.0" cy="712.2" r="1.75" fill="#D39200"/><path d="M137.3,768.1V788.5" stroke="#93AA00" fill="none" stroke-width="2.4"/><path d="M135.4,768.1h3.8M135.4,788.5h3.8" stroke="#93AA00" fill="none" stroke-width="2.1"/><circle cx="137.3" cy="779.9" r="1.75" fill="#93AA00"/><path d="M140.6,768.1V788.5" stroke="#93AA00" fill="none" stroke-width="2.4"/><path d="M138.7,768.1h3.8M138.7,788.5h3.8" stroke="#93AA00" fill="none" stroke-width="2.1"/><circle cx="140.6" cy="779.9" r="1.75" fill="#93AA00"/><path d="M143.9,768.1V788.5" stroke="#93AA00" fill="none" stroke-width="2.4"/><path d="M142.0,768.1h3.8M142.0,788.5h3.8" stroke="#93AA00" fill="none" stroke-width="2.1"/><circle cx="143.9" cy="779.9" r="1.75" fill="#93AA00"/><path d="M147.2,768.1V788.5" stroke="#93AA00" fill="none" stroke-width="2.4"/><path d="M145.3,768.1h3.8M145.3,788.5h3.8" stroke="#93AA00" fill="none" stroke-width="2.1"/><circle cx="147.2" cy="779.9" r="1.75" fill="#93AA00"/><path d="M150.6,747.7V799.0" stroke="#00B9E3" fill="none" stroke-width="2.4"/><path d="M148.7,747.7h3.8M148.7,799.0h3.8" stroke="#00B9E3" fill="none" stroke-width="2.1"/><circle cx="150.6" cy="786.3" r="1.75" fill="#00B9E3"/><path d="M153.9,768.1V788.5" stroke="#93AA00" fill="none" stroke-width="2.4"/><path d="M152.0,768.1h3.8M152.0,788.5h3.8" stroke="#93AA00" fill="none" stroke-width="2.1"/><circle cx="153.9" cy="779.9" r="1.75" fill="#93AA00"/><path d="M157.2,768.1V788.5" stroke="#93AA00" fill="none" stroke-width="2.4"/><path d="M155.3,768.1h3.8M155.3,788.5h3.8" stroke="#93AA00" fill="none" stroke-width="2.1"/><circle cx="157.2" cy="779.9" r="1.75" fill="#93AA00"/><path d="M160.5,768.1V788.5" stroke="#93AA00" fill="none" stroke-width="2.4"/><path d="M158.6,768.1h3.8M158.6,788.5h3.8" stroke="#93AA00" fill="none" stroke-width="2.1"/><circle cx="160.5" cy="779.9" r="1.75" fill="#93AA00"/><path d="M163.8,768.1V788.5" stroke="#93AA00" fill="none" stroke-width="2.4"/><path d="M161.9,768.1h3.8M161.9,788.5h3.8" stroke="#93AA00" fill="none" stroke-width="2.1"/><circle cx="163.8" cy="779.9" r="1.75" fill="#93AA00"/><path d="M167.1,694.3V735.9" stroke="#D39200" fill="none" stroke-width="2.4"/><path d="M165.2,694.3h3.8M165.2,735.9h3.8" stroke="#D39200" fill="none" stroke-width="2.1"/><circle cx="167.1" cy="712.2" r="1.75" fill="#D39200"/><path d="M170.4,768.1V788.5" stroke="#93AA00" fill="none" stroke-width="2.4"/><path d="M168.5,768.1h3.8M168.5,788.5h3.8" stroke="#93AA00" fill="none" stroke-width="2.1"/><circle cx="170.4" cy="779.9" r="1.75" fill="#93AA00"/><path d="M173.7,768.1V788.5" stroke="#93AA00" fill="none" stroke-width="2.4"/><path d="M171.8,768.1h3.8M171.8,788.5h3.8" stroke="#93AA00" fill="none" stroke-width="2.1"/><circle cx="173.7" cy="779.9" r="1.75" fill="#93AA00"/><path d="M177.0,694.3V735.9" stroke="#D39200" fill="none" stroke-width="2.4"/><path d="M175.1,694.3h3.8M175.1,735.9h3.8" stroke="#D39200" fill="none" stroke-width="2.1"/><circle cx="177.0" cy="712.2" r="1.75" fill="#D39200"/><path d="M180.3,768.1V788.5" stroke="#93AA00" fill="none" stroke-width="2.4"/><path d="M178.4,768.1h3.8M178.4,788.5h3.8" stroke="#93AA00" fill="none" stroke-width="2.1"/><circle cx="180.3" cy="779.9" r="1.75" fill="#93AA00"/><path d="M183.6,768.1V788.5" stroke="#93AA00" fill="none" stroke-width="2.4"/><path d="M181.7,768.1h3.8M181.7,788.5h3.8" stroke="#93AA00" fill="none" stroke-width="2.1"/><circle cx="183.6" cy="779.9" r="1.75" fill="#93AA00"/><path d="M187.0,770.8V800.5" stroke="#00BA38" fill="none" stroke-width="2.4"/><path d="M185.1,770.8h3.8M185.1,800.5h3.8" stroke="#00BA38" fill="none" stroke-width="2.1"/><circle cx="187.0" cy="794.9" r="1.75" fill="#00BA38"/><path d="M190.3,768.1V788.5" stroke="#93AA00" fill="none" stroke-width="2.4"/><path d="M188.4,768.1h3.8M188.4,788.5h3.8" stroke="#93AA00" fill="none" stroke-width="2.1"/><circle cx="190.3" cy="779.9" r="1.75" fill="#93AA00"/><path d="M193.6,694.3V735.9" stroke="#D39200" fill="none" stroke-width="2.4"/><path d="M191.7,694.3h3.8M191.7,735.9h3.8" stroke="#D39200" fill="none" stroke-width="2.1"/><circle cx="193.6" cy="712.2" r="1.75" fill="#D39200"/><path d="M196.9,772.2V797.0" stroke="#00C19F" fill="none" stroke-width="2.4"/><path d="M195.0,772.2h3.8M195.0,797.0h3.8" stroke="#00C19F" fill="none" stroke-width="2.1"/><circle cx="196.9" cy="787.7" r="1.75" fill="#00C19F"/><path d="M200.2,768.1V788.5" stroke="#93AA00" fill="none" stroke-width="2.4"/><path d="M198.3,768.1h3.8M198.3,788.5h3.8" stroke="#93AA00" fill="none" stroke-width="2.1"/><circle cx="200.2" cy="779.9" r="1.75" fill="#93AA00"/><path d="M203.5,770.8V800.5" stroke="#00BA38" fill="none" stroke-width="2.4"/><path d="M201.6,770.8h3.8M201.6,800.5h3.8" stroke="#00BA38" fill="none" stroke-width="2.1"/><circle cx="203.5" cy="794.9" r="1.75" fill="#00BA38"/><path d="M206.8,768.1V788.5" stroke="#93AA00" fill="none" stroke-width="2.4"/><path d="M204.9,768.1h3.8M204.9,788.5h3.8" stroke="#93AA00" fill="none" stroke-width="2.1"/><circle cx="206.8" cy="779.9" r="1.75" fill="#93AA00"/><path d="M210.1,768.1V788.5" stroke="#93AA00" fill="none" stroke-width="2.4"/><path d="M208.2,768.1h3.8M208.2,788.5h3.8" stroke="#93AA00" fill="none" stroke-width="2.1"/><circle cx="210.1" cy="779.9" r="1.75" fill="#93AA00"/><path d="M213.4,768.1V788.5" stroke="#93AA00" fill="none" stroke-width="2.4"/><path d="M211.5,768.1h3.8M211.5,788.5h3.8" stroke="#93AA00" fill="none" stroke-width="2.1"/><circle cx="213.4" cy="779.9" r="1.75" fill="#93AA00"/><path d="M216.7,694.3V735.9" stroke="#D39200" fill="none" stroke-width="2.4"/><path d="M214.8,694.3h3.8M214.8,735.9h3.8" stroke="#D39200" fill="none" stroke-width="2.1"/><circle cx="216.7" cy="712.2" r="1.75" fill="#D39200"/><path d="M220.0,768.1V788.5" stroke="#93AA00" fill="none" stroke-width="2.4"/><path d="M218.1,768.1h3.8M218.1,788.5h3.8" stroke="#93AA00" fill="none" stroke-width="2.1"/><circle cx="220.0" cy="779.9" r="1.75" fill="#93AA00"/><path d="M223.4,694.3V735.9" stroke="#D39200" fill="none" stroke-width="2.4"/><path d="M221.5,694.3h3.8M221.5,735.9h3.8" stroke="#D39200" fill="none" stroke-width="2.1"/><circle cx="223.4" cy="712.2" r="1.75" fill="#D39200"/><path d="M226.7,768.1V788.5" stroke="#93AA00" fill="none" stroke-width="2.4"/><path d="M224.8,768.1h3.8M224.8,788.5h3.8" stroke="#93AA00" fill="none" stroke-width="2.1"/><circle cx="226.7" cy="779.9" r="1.75" fill="#93AA00"/><path d="M230.0,706.1V782.7" stroke="#FF61C3" fill="none" stroke-width="2.4"/><path d="M228.1,706.1h3.8M228.1,782.7h3.8" stroke="#FF61C3" fill="none" stroke-width="2.1"/><circle cx="230.0" cy="748.7" r="1.75" fill="#FF61C3"/><path d="M233.3,768.1V788.5" stroke="#93AA00" fill="none" stroke-width="2.4"/><path d="M231.4,768.1h3.8M231.4,788.5h3.8" stroke="#93AA00" fill="none" stroke-width="2.1"/><circle cx="233.3" cy="779.9" r="1.75" fill="#93AA00"/><path d="M236.6,695.5V769.3" stroke="#93AA00" fill="none" stroke-width="2.4"/><path d="M234.7,695.5h3.8M234.7,769.3h3.8" stroke="#93AA00" fill="none" stroke-width="2.1"/><circle cx="236.6" cy="730.7" r="1.75" fill="#93AA00"/><path d="M239.9,706.1V782.7" stroke="#FF61C3" fill="none" stroke-width="2.4"/><path d="M238.0,706.1h3.8M238.0,782.7h3.8" stroke="#FF61C3" fill="none" stroke-width="2.1"/><circle cx="239.9" cy="748.7" r="1.75" fill="#FF61C3"/><path d="M243.2,694.3V735.9" stroke="#D39200" fill="none" stroke-width="2.4"/><path d="M241.3,694.3h3.8M241.3,735.9h3.8" stroke="#D39200" fill="none" stroke-width="2.1"/><circle cx="243.2" cy="712.2" r="1.75" fill="#D39200"/><path d="M246.5,747.7V799.0" stroke="#00B9E3" fill="none" stroke-width="2.4"/><path d="M244.6,747.7h3.8M244.6,799.0h3.8" stroke="#00B9E3" fill="none" stroke-width="2.1"/><circle cx="246.5" cy="786.3" r="1.75" fill="#00B9E3"/><path d="M249.8,768.1V788.5" stroke="#93AA00" fill="none" stroke-width="2.4"/><path d="M247.9,768.1h3.8M247.9,788.5h3.8" stroke="#93AA00" fill="none" stroke-width="2.1"/><circle cx="249.8" cy="779.9" r="1.75" fill="#93AA00"/><path d="M253.1,768.1V788.5" stroke="#93AA00" fill="none" stroke-width="2.4"/><path d="M251.2,768.1h3.8M251.2,788.5h3.8" stroke="#93AA00" fill="none" stroke-width="2.1"/><circle cx="253.1" cy="779.9" r="1.75" fill="#93AA00"/>
<rect x="46.2" y="667.3" width="218.2" height="141.1" fill="none" stroke="#737373" stroke-width="1.1"/>
<rect x="46.2" y="655.6" width="218.2" height="11.7" fill="#cfcfcf" stroke="#666" stroke-width="1.2"/>
<text x="98.1" y="665.1" textLength="113.3" style="font-family:'Liberation Sans',Arial,sans-serif;font-weight:bold;fill:#000;stroke:#000;stroke-width:0.25;font-size:10.2px">ST13,chr22,39552596</text>
<line x1="43.2" x2="46.2" y1="802.7" y2="802.7" stroke="#000" stroke-width="2"/><text x="22.3" y="806.5" textLength="18.1" style="font-family:'Liberation Sans',Arial,sans-serif;font-weight:bold;fill:#000;stroke:#000;stroke-width:0.25;font-size:10.3px">0.00</text><line x1="43.2" x2="46.2" y1="770.1" y2="770.1" stroke="#000" stroke-width="2"/><text x="22.3" y="773.9" textLength="18.1" style="font-family:'Liberation Sans',Arial,sans-serif;font-weight:bold;fill:#000;stroke:#000;stroke-width:0.25;font-size:10.3px">0.25</text><line x1="43.2" x2="46.2" y1="737.5" y2="737.5" stroke="#000" stroke-width="2"/><text x="22.3" y="741.3" textLength="18.1" style="font-family:'Liberation Sans',Arial,sans-serif;font-weight:bold;fill:#000;stroke:#000;stroke-width:0.25;font-size:10.3px">0.50</text><line x1="43.2" x2="46.2" y1="704.9" y2="704.9" stroke="#000" stroke-width="2"/><text x="22.3" y="708.7" textLength="18.1" style="font-family:'Liberation Sans',Arial,sans-serif;font-weight:bold;fill:#000;stroke:#000;stroke-width:0.25;font-size:10.3px">0.75</text><line x1="43.2" x2="46.2" y1="672.3" y2="672.3" stroke="#000" stroke-width="2"/><text x="22.3" y="676.1" textLength="18.1" style="font-family:'Liberation Sans',Arial,sans-serif;font-weight:bold;fill:#000;stroke:#000;stroke-width:0.25;font-size:10.3px">1.00</text>
<rect x="267.4" y="667.3" width="217.2" height="141.1" fill="#fff"/>
<line x1="267.4" x2="484.6" y1="786.4" y2="786.4" stroke="#f4f4f4" stroke-width="0.9"/><line x1="267.4" x2="484.6" y1="753.8" y2="753.8" stroke="#f4f4f4" stroke-width="0.9"/><line x1="267.4" x2="484.6" y1="721.2" y2="721.2" stroke="#f4f4f4" stroke-width="0.9"/><line x1="267.4" x2="484.6" y1="688.6" y2="688.6" stroke="#f4f4f4" stroke-width="0.9"/><line y1="667.3" y2="808.4" x1="308.3" x2="308.3" stroke="#f4f4f4" stroke-width="0.9"/><line y1="667.3" y2="808.4" x1="374.5" x2="374.5" stroke="#f4f4f4" stroke-width="0.9"/><line y1="667.3" y2="808.4" x1="440.6" x2="440.6" stroke="#f4f4f4" stroke-width="0.9"/><line x1="267.4" x2="484.6" y1="802.7" y2="802.7" stroke="#e4e4e4" stroke-width="1"/><line x1="267.4" x2="484.6" y1="770.1" y2="770.1" stroke="#e4e4e4" stroke-width="1"/><line x1="267.4" x2="484.6" y1="737.5" y2="737.5" stroke="#e4e4e4" stroke-width="1"/><line x1="267.4" x2="484.6" y1="704.9" y2="704.9" stroke="#e4e4e4" stroke-width="1"/><line x1="267.4" x2="484.6" y1="672.3" y2="672.3" stroke="#e4e4e4" stroke-width="1"/><line y1="667.3" y2="808.4" x1="275.2" x2="275.2" stroke="#e4e4e4" stroke-width="1"/><line y1="667.3" y2="808.4" x1="341.4" x2="341.4" stroke="#e4e4e4" stroke-width="1"/><line y1="667.3" y2="808.4" x1="407.6" x2="407.6" stroke="#e4e4e4" stroke-width="1"/><line y1="667.3" y2="808.4" x1="473.7" x2="473.7" stroke="#e4e4e4" stroke-width="1"/>
<rect x="276.8" y="800.3" width="3.4" height="3.4" fill="#F8766D"/><path d="M281.8,696.9V725.2" stroke="#93AA00" fill="none" stroke-width="2.4"/><path d="M279.9,696.9h3.8M279.9,725.2h3.8" stroke="#93AA00" fill="none" stroke-width="2.1"/><circle cx="281.8" cy="709.7" r="1.75" fill="#93AA00"/><path d="M285.1,677.0V701.1" stroke="#00B9E3" fill="none" stroke-width="2.4"/><path d="M283.2,677.0h3.8M283.2,701.1h3.8" stroke="#00B9E3" fill="none" stroke-width="2.1"/><circle cx="285.1" cy="684.8" r="1.75" fill="#00B9E3"/><path d="M288.4,696.9V725.2" stroke="#93AA00" fill="none" stroke-width="2.4"/><path d="M286.5,696.9h3.8M286.5,725.2h3.8" stroke="#93AA00" fill="none" stroke-width="2.1"/><circle cx="288.4" cy="709.7" r="1.75" fill="#93AA00"/><path d="M291.7,673.3V704.6" stroke="#619CFF" fill="none" stroke-width="2.4"/><path d="M289.8,673.3h3.8M289.8,704.6h3.8" stroke="#619CFF" fill="none" stroke-width="2.1"/><circle cx="291.7" cy="679.6" r="1.75" fill="#619CFF"/><path d="M295.0,696.9V725.2" stroke="#93AA00" fill="none" stroke-width="2.4"/><path d="M293.1,696.9h3.8M293.1,725.2h3.8" stroke="#93AA00" fill="none" stroke-width="2.1"/><circle cx="295.0" cy="709.7" r="1.75" fill="#93AA00"/><path d="M298.4,696.9V725.2" stroke="#93AA00" fill="none" stroke-width="2.4"/><path d="M296.5,696.9h3.8M296.5,725.2h3.8" stroke="#93AA00" fill="none" stroke-width="2.1"/><circle cx="298.4" cy="709.7" r="1.75" fill="#93AA00"/><path d="M301.7,696.9V725.2" stroke="#93AA00" fill="none" stroke-width="2.4"/><path d="M299.8,696.9h3.8M299.8,725.2h3.8" stroke="#93AA00" fill="none" stroke-width="2.1"/><circle cx="301.7" cy="709.7" r="1.75" fill="#93AA00"/><path d="M305.0,696.9V725.2" stroke="#93AA00" fill="none" stroke-width="2.4"/><path d="M303.1,696.9h3.8M303.1,725.2h3.8" stroke="#93AA00" fill="none" stroke-width="2.1"/><circle cx="305.0" cy="709.7" r="1.75" fill="#93AA00"/><path d="M308.3,676.2V767.2" stroke="#FF61C3" fill="none" stroke-width="2.4"/><path d="M306.4,676.2h3.8M306.4,767.2h3.8" stroke="#FF61C3" fill="none" stroke-width="2.1"/><circle cx="308.3" cy="701.8" r="1.75" fill="#FF61C3"/><path d="M311.6,696.9V725.2" stroke="#93AA00" fill="none" stroke-width="2.4"/><path d="M309.7,696.9h3.8M309.7,725.2h3.8" stroke="#93AA00" fill="none" stroke-width="2.1"/><circle cx="311.6" cy="709.7" r="1.75" fill="#93AA00"/><path d="M314.9,696.9V725.2" stroke="#93AA00" fill="none" stroke-width="2.4"/><path d="M313.0,696.9h3.8M313.0,725.2h3.8" stroke="#93AA00" fill="none" stroke-width="2.1"/><circle cx="314.9" cy="709.7" r="1.75" fill="#93AA00"/><path d="M318.2,696.9V725.2" stroke="#93AA00" fill="none" stroke-width="2.4"/><path d="M316.3,696.9h3.8M316.3,725.2h3.8" stroke="#93AA00" fill="none" stroke-width="2.1"/><circle cx="318.2" cy="709.7" r="1.75" fill="#93AA00"/><path d="M321.5,711.8V788.5" stroke="#00BA38" fill="none" stroke-width="2.4"/><path d="M319.6,711.8h3.8M319.6,788.5h3.8" stroke="#00BA38" fill="none" stroke-width="2.1"/><circle cx="321.5" cy="757.2" r="1.75" fill="#00BA38"/><path d="M324.8,674.8V708.9" stroke="#DB72FB" fill="none" stroke-width="2.4"/><path d="M322.9,674.8h3.8M322.9,708.9h3.8" stroke="#DB72FB" fill="none" stroke-width="2.1"/><circle cx="324.8" cy="682.6" r="1.75" fill="#DB72FB"/><path d="M328.1,711.8V788.5" stroke="#00BA38" fill="none" stroke-width="2.4"/><path d="M326.2,711.8h3.8M326.2,788.5h3.8" stroke="#00BA38" fill="none" stroke-width="2.1"/><circle cx="328.1" cy="757.2" r="1.75" fill="#00BA38"/><path d="M331.4,696.9V725.2" stroke="#93AA00" fill="none" stroke-width="2.4"/><path d="M329.5,696.9h3.8M329.5,725.2h3.8" stroke="#93AA00" fill="none" stroke-width="2.1"/><circle cx="331.4" cy="709.7" r="1.75" fill="#93AA00"/><path d="M334.8,676.2V767.2" stroke="#FF61C3" fill="none" stroke-width="2.4"/><path d="M332.9,676.2h3.8M332.9,767.2h3.8" stroke="#FF61C3" fill="none" stroke-width="2.1"/><circle cx="334.8" cy="701.8" r="1.75" fill="#FF61C3"/><path d="M338.1,674.8V708.9" stroke="#DB72FB" fill="none" stroke-width="2.4"/><path d="M336.2,674.8h3.8M336.2,708.9h3.8" stroke="#DB72FB" fill="none" stroke-width="2.1"/><circle cx="338.1" cy="682.6" r="1.75" fill="#DB72FB"/><path d="M341.4,711.8V788.5" stroke="#00BA38" fill="none" stroke-width="2.4"/><path d="M339.5,711.8h3.8M339.5,788.5h3.8" stroke="#00BA38" fill="none" stroke-width="2.1"/><circle cx="341.4" cy="757.2" r="1.75" fill="#00BA38"/><path d="M344.7,696.9V725.2" stroke="#93AA00" fill="none" stroke-width="2.4"/><path d="M342.8,696.9h3.8M342.8,725.2h3.8" stroke="#93AA00" fill="none" stroke-width="2.1"/><circle cx="344.7" cy="709.7" r="1.75" fill="#93AA00"/><path d="M348.0,681.2V786.3" stroke="#00C19F" fill="none" stroke-width="2.4"/><path d="M346.1,681.2h3.8M346.1,786.3h3.8" stroke="#00C19F" fill="none" stroke-width="2.1"/><circle cx="348.0" cy="729.5" r="1.75" fill="#00C19F"/><path d="M351.3,711.8V788.5" stroke="#00BA38" fill="none" stroke-width="2.4"/><path d="M349.4,711.8h3.8M349.4,788.5h3.8" stroke="#00BA38" fill="none" stroke-width="2.1"/><circle cx="351.3" cy="757.2" r="1.75" fill="#00BA38"/><path d="M354.6,693.3V786.3" stroke="#D39200" fill="none" stroke-width="2.4"/><path d="M352.7,693.3h3.8M352.7,786.3h3.8" stroke="#D39200" fill="none" stroke-width="2.1"/><circle cx="354.6" cy="743.5" r="1.75" fill="#D39200"/><path d="M357.9,696.9V725.2" stroke="#93AA00" fill="none" stroke-width="2.4"/><path d="M356.0,696.9h3.8M356.0,725.2h3.8" stroke="#93AA00" fill="none" stroke-width="2.1"/><circle cx="357.9" cy="709.7" r="1.75" fill="#93AA00"/><path d="M361.2,696.9V725.2" stroke="#93AA00" fill="none" stroke-width="2.4"/><path d="M359.3,696.9h3.8M359.3,725.2h3.8" stroke="#93AA00" fill="none" stroke-width="2.1"/><circle cx="361.2" cy="709.7" r="1.75" fill="#93AA00"/><path d="M364.5,696.9V725.2" stroke="#93AA00" fill="none" stroke-width="2.4"/><path d="M362.6,696.9h3.8M362.6,725.2h3.8" stroke="#93AA00" fill="none" stroke-width="2.1"/><circle cx="364.5" cy="709.7" r="1.75" fill="#93AA00"/><path d="M367.8,696.9V725.2" stroke="#93AA00" fill="none" stroke-width="2.4"/><path d="M365.9,696.9h3.8M365.9,725.2h3.8" stroke="#93AA00" fill="none" stroke-width="2.1"/><circle cx="367.8" cy="709.7" r="1.75" fill="#93AA00"/><path d="M371.2,677.0V701.1" stroke="#00B9E3" fill="none" stroke-width="2.4"/><path d="M369.3,677.0h3.8M369.3,701.1h3.8" stroke="#00B9E3" fill="none" stroke-width="2.1"/><circle cx="371.2" cy="684.8" r="1.75" fill="#00B9E3"/><path d="M374.5,696.9V725.2" stroke="#93AA00" fill="none" stroke-width="2.4"/><path d="M372.6,696.9h3.8M372.6,725.2h3.8" stroke="#93AA00" fill="none" stroke-width="2.1"/><circle cx="374.5" cy="709.7" r="1.75" fill="#93AA00"/><path d="M377.8,696.9V725.2" stroke="#93AA00" fill="none" stroke-width="2.4"/><path d="M375.9,696.9h3.8M375.9,725.2h3.8" stroke="#93AA00" fill="none" stroke-width="2.1"/><circle cx="377.8" cy="709.7" r="1.75" fill="#93AA00"/><path d="M381.1,696.9V725.2" stroke="#93AA00" fill="none" stroke-width="2.4"/><path d="M379.2,696.9h3.8M379.2,725.2h3.8" stroke="#93AA00" fill="none" stroke-width="2.1"/><circle cx="381.1" cy="709.7" r="1.75" fill="#93AA00"/><path d="M384.4,696.9V725.2" stroke="#93AA00" fill="none" stroke-width="2.4"/><path d="M382.5,696.9h3.8M382.5,725.2h3.8" stroke="#93AA00" fill="none" stroke-width="2.1"/><circle cx="384.4" cy="709.7" r="1.75" fill="#93AA00"/><path d="M387.7,693.3V786.3" stroke="#D39200" fill="none" stroke-width="2.4"/><path d="M385.8,693.3h3.8M385.8,786.3h3.8" stroke="#D39200" fill="none" stroke-width="2.1"/><circle cx="387.7" cy="743.5" r="1.75" fill="#D39200"/><path d="M391.0,696.9V725.2" stroke="#93AA00" fill="none" stroke-width="2.4"/><path d="M389.1,696.9h3.8M389.1,725.2h3.8" stroke="#93AA00" fill="none" stroke-width="2.1"/><circle cx="391.0" cy="709.7" r="1.75" fill="#93AA00"/><path d="M394.3,696.9V725.2" stroke="#93AA00" fill="none" stroke-width="2.4"/><path d="M392.4,696.9h3.8M392.4,725.2h3.8" stroke="#93AA00" fill="none" stroke-width="2.1"/><circle cx="394.3" cy="709.7" r="1.75" fill="#93AA00"/><path d="M397.6,693.3V786.3" stroke="#D39200" fill="none" stroke-width="2.4"/><path d="M395.7,693.3h3.8M395.7,786.3h3.8" stroke="#D39200" fill="none" stroke-width="2.1"/><circle cx="397.6" cy="743.5" r="1.75" fill="#D39200"/><path d="M400.9,696.9V725.2" stroke="#93AA00" fill="none" stroke-width="2.4"/><path d="M399.0,696.9h3.8M399.0,725.2h3.8" stroke="#93AA00" fill="none" stroke-width="2.1"/><circle cx="400.9" cy="709.7" r="1.75" fill="#93AA00"/><path d="M404.2,696.9V725.2" stroke="#93AA00" fill="none" stroke-width="2.4"/><path d="M402.3,696.9h3.8M402.3,725.2h3.8" stroke="#93AA00" fill="none" stroke-width="2.1"/><circle cx="404.2" cy="709.7" r="1.75" fill="#93AA00"/><path d="M407.6,711.8V788.5" stroke="#00BA38" fill="none" stroke-width="2.4"/><path d="M405.7,711.8h3.8M405.7,788.5h3.8" stroke="#00BA38" fill="none" stroke-width="2.1"/><circle cx="407.6" cy="757.2" r="1.75" fill="#00BA38"/><path d="M410.9,696.9V725.2" stroke="#93AA00" fill="none" stroke-width="2.4"/><path d="M409.0,696.9h3.8M409.0,725.2h3.8" stroke="#93AA00" fill="none" stroke-width="2.1"/><circle cx="410.9" cy="709.7" r="1.75" fill="#93AA00"/><path d="M414.2,693.3V786.3" stroke="#D39200" fill="none" stroke-width="2.4"/><path d="M412.3,693.3h3.8M412.3,786.3h3.8" stroke="#D39200" fill="none" stroke-width="2.1"/><circle cx="414.2" cy="743.5" r="1.75" fill="#D39200"/><path d="M417.5,681.2V786.3" stroke="#00C19F" fill="none" stroke-width="2.4"/><path d="M415.6,681.2h3.8M415.6,786.3h3.8" stroke="#00C19F" fill="none" stroke-width="2.1"/><circle cx="417.5" cy="729.5" r="1.75" fill="#00C19F"/><path d="M420.8,696.9V725.2" stroke="#93AA00" fill="none" stroke-width="2.4"/><path d="M418.9,696.9h3.8M418.9,725.2h3.8" stroke="#93AA00" fill="none" stroke-width="2.1"/><circle cx="420.8" cy="709.7" r="1.75" fill="#93AA00"/><path d="M424.1,711.8V788.5" stroke="#00BA38" fill="none" stroke-width="2.4"/><path d="M422.2,711.8h3.8M422.2,788.5h3.8" stroke="#00BA38" fill="none" stroke-width="2.1"/><circle cx="424.1" cy="757.2" r="1.75" fill="#00BA38"/><path d="M427.4,696.9V725.2" stroke="#93AA00" fill="none" stroke-width="2.4"/><path d="M425.5,696.9h3.8M425.5,725.2h3.8" stroke="#93AA00" fill="none" stroke-width="2.1"/><circle cx="427.4" cy="709.7" r="1.75" fill="#93AA00"/><path d="M430.7,696.9V725.2" stroke="#93AA00" fill="none" stroke-width="2.4"/><path d="M428.8,696.9h3.8M428.8,725.2h3.8" stroke="#93AA00" fill="none" stroke-width="2.1"/><circle cx="430.7" cy="709.7" r="1.75" fill="#93AA00"/><path d="M434.0,696.9V725.2" stroke="#93AA00" fill="none" stroke-width="2.4"/><path d="M432.1,696.9h3.8M432.1,725.2h3.8" stroke="#93AA00" fill="none" stroke-width="2.1"/><circle cx="434.0" cy="709.7" r="1.75" fill="#93AA00"/><path d="M437.3,693.3V786.3" stroke="#D39200" fill="none" stroke-width="2.4"/><path d="M435.4,693.3h3.8M435.4,786.3h3.8" stroke="#D39200" fill="none" stroke-width="2.1"/><circle cx="437.3" cy="743.5" r="1.75" fill="#D39200"/><path d="M440.6,696.9V725.2" stroke="#93AA00" fill="none" stroke-width="2.4"/><path d="M438.7,696.9h3.8M438.7,725.2h3.8" stroke="#93AA00" fill="none" stroke-width="2.1"/><circle cx="440.6" cy="709.7" r="1.75" fill="#93AA00"/><path d="M444.0,693.3V786.3" stroke="#D39200" fill="none" stroke-width="2.4"/><path d="M442.1,693.3h3.8M442.1,786.3h3.8" stroke="#D39200" fill="none" stroke-width="2.1"/><circle cx="444.0" cy="743.5" r="1.75" fill="#D39200"/><path d="M447.3,696.9V725.2" stroke="#93AA00" fill="none" stroke-width="2.4"/><path d="M445.4,696.9h3.8M445.4,725.2h3.8" stroke="#93AA00" fill="none" stroke-width="2.1"/><circle cx="447.3" cy="709.7" r="1.75" fill="#93AA00"/><path d="M450.6,676.2V767.2" stroke="#FF61C3" fill="none" stroke-width="2.4"/><path d="M448.7,676.2h3.8M448.7,767.2h3.8" stroke="#FF61C3" fill="none" stroke-width="2.1"/><circle cx="450.6" cy="701.8" r="1.75" fill="#FF61C3"/><path d="M453.9,696.9V725.2" stroke="#93AA00" fill="none" stroke-width="2.4"/><path d="M452.0,696.9h3.8M452.0,725.2h3.8" stroke="#93AA00" fill="none" stroke-width="2.1"/><circle cx="453.9" cy="709.7" r="1.75" fill="#93AA00"/><path d="M457.2,706.9V786.3" stroke="#93AA00" fill="none" stroke-width="2.4"/><path d="M455.3,706.9h3.8M455.3,786.3h3.8" stroke="#93AA00" fill="none" stroke-width="2.1"/><circle cx="457.2" cy="752.2" r="1.75" fill="#93AA00"/><path d="M460.5,676.2V767.2" stroke="#FF61C3" fill="none" stroke-width="2.4"/><path d="M458.6,676.2h3.8M458.6,767.2h3.8" stroke="#FF61C3" fill="none" stroke-width="2.1"/><circle cx="460.5" cy="701.8" r="1.75" fill="#FF61C3"/><path d="M463.8,693.3V786.3" stroke="#D39200" fill="none" stroke-width="2.4"/><path d="M461.9,693.3h3.8M461.9,786.3h3.8" stroke="#D39200" fill="none" stroke-width="2.1"/><circle cx="463.8" cy="743.5" r="1.75" fill="#D39200"/><path d="M467.1,677.0V701.1" stroke="#00B9E3" fill="none" stroke-width="2.4"/><path d="M465.2,677.0h3.8M465.2,701.1h3.8" stroke="#00B9E3" fill="none" stroke-width="2.1"/><circle cx="467.1" cy="684.8" r="1.75" fill="#00B9E3"/><path d="M470.4,696.9V725.2" stroke="#93AA00" fill="none" stroke-width="2.4"/><path d="M468.5,696.9h3.8M468.5,725.2h3.8" stroke="#93AA00" fill="none" stroke-width="2.1"/><circle cx="470.4" cy="709.7" r="1.75" fill="#93AA00"/><path d="M473.7,696.9V725.2" stroke="#93AA00" fill="none" stroke-width="2.4"/><path d="M471.8,696.9h3.8M471.8,725.2h3.8" stroke="#93AA00" fill="none" stroke-width="2.1"/><circle cx="473.7" cy="709.7" r="1.75" fill="#93AA00"/>
<rect x="267.4" y="667.3" width="217.2" height="141.1" fill="none" stroke="#737373" stroke-width="1.1"/>
<rect x="267.4" y="655.6" width="217.2" height="11.7" fill="#cfcfcf" stroke="#666" stroke-width="1.2"/>
<text x="317.3" y="665.1" textLength="116.2" style="font-family:'Liberation Sans',Arial,sans-serif;font-weight:bold;fill:#000;stroke:#000;stroke-width:0.25;font-size:10.2px">ABCB5,chr7,20729171</text>
<rect x="48.0" y="823.4" width="217.4" height="140.9" fill="#fff"/>
<line x1="48.0" x2="265.4" y1="942.6" y2="942.6" stroke="#f4f4f4" stroke-width="0.9"/><line x1="48.0" x2="265.4" y1="910.2" y2="910.2" stroke="#f4f4f4" stroke-width="0.9"/><line x1="48.0" x2="265.4" y1="877.7" y2="877.7" stroke="#f4f4f4" stroke-width="0.9"/><line x1="48.0" x2="265.4" y1="845.3" y2="845.3" stroke="#f4f4f4" stroke-width="0.9"/><line y1="823.4" y2="964.3" x1="89.2" x2="89.2" stroke="#f4f4f4" stroke-width="0.9"/><line y1="823.4" y2="964.3" x1="155.4" x2="155.4" stroke="#f4f4f4" stroke-width="0.9"/><line y1="823.4" y2="964.3" x1="221.5" x2="221.5" stroke="#f4f4f4" stroke-width="0.9"/><line x1="48.0" x2="265.4" y1="958.8" y2="958.8" stroke="#e4e4e4" stroke-width="1"/><line x1="48.0" x2="265.4" y1="926.4" y2="926.4" stroke="#e4e4e4" stroke-width="1"/><line x1="48.0" x2="265.4" y1="894.0" y2="894.0" stroke="#e4e4e4" stroke-width="1"/><line x1="48.0" x2="265.4" y1="861.5" y2="861.5" stroke="#e4e4e4" stroke-width="1"/><line x1="48.0" x2="265.4" y1="829.1" y2="829.1" stroke="#e4e4e4" stroke-width="1"/><line y1="823.4" y2="964.3" x1="56.1" x2="56.1" stroke="#e4e4e4" stroke-width="1"/><line y1="823.4" y2="964.3" x1="122.3" x2="122.3" stroke="#e4e4e4" stroke-width="1"/><line y1="823.4" y2="964.3" x1="188.5" x2="188.5" stroke="#e4e4e4" stroke-width="1"/><line y1="823.4" y2="964.3" x1="254.6" x2="254.6" stroke="#e4e4e4" stroke-width="1"/>
<rect x="57.7" y="956.4" width="3.4" height="3.4" fill="#F8766D"/><path d="M62.7,926.4V946.6" stroke="#93AA00" fill="none" stroke-width="2.4"/><path d="M60.8,926.4h3.8M60.8,946.6h3.8" stroke="#93AA00" fill="none" stroke-width="2.1"/><circle cx="62.7" cy="938.0" r="1.75" fill="#93AA00"/><path d="M66.0,923.1V954.0" stroke="#00B9E3" fill="none" stroke-width="2.4"/><path d="M64.1,923.1h3.8M64.1,954.0h3.8" stroke="#00B9E3" fill="none" stroke-width="2.1"/><circle cx="66.0" cy="945.2" r="1.75" fill="#00B9E3"/><path d="M69.3,926.4V946.6" stroke="#93AA00" fill="none" stroke-width="2.4"/><path d="M67.4,926.4h3.8M67.4,946.6h3.8" stroke="#93AA00" fill="none" stroke-width="2.1"/><circle cx="69.3" cy="938.0" r="1.75" fill="#93AA00"/><path d="M72.6,877.0V953.4" stroke="#619CFF" fill="none" stroke-width="2.4"/><path d="M70.7,877.0h3.8M70.7,953.4h3.8" stroke="#619CFF" fill="none" stroke-width="2.1"/><circle cx="72.6" cy="931.7" r="1.75" fill="#619CFF"/><path d="M75.9,926.4V946.6" stroke="#93AA00" fill="none" stroke-width="2.4"/><path d="M74.0,926.4h3.8M74.0,946.6h3.8" stroke="#93AA00" fill="none" stroke-width="2.1"/><circle cx="75.9" cy="938.0" r="1.75" fill="#93AA00"/><path d="M79.3,926.4V946.6" stroke="#93AA00" fill="none" stroke-width="2.4"/><path d="M77.4,926.4h3.8M77.4,946.6h3.8" stroke="#93AA00" fill="none" stroke-width="2.1"/><circle cx="79.3" cy="938.0" r="1.75" fill="#93AA00"/><path d="M82.6,926.4V946.6" stroke="#93AA00" fill="none" stroke-width="2.4"/><path d="M80.7,926.4h3.8M80.7,946.6h3.8" stroke="#93AA00" fill="none" stroke-width="2.1"/><circle cx="82.6" cy="938.0" r="1.75" fill="#93AA00"/><path d="M85.9,926.4V946.6" stroke="#93AA00" fill="none" stroke-width="2.4"/><path d="M84.0,926.4h3.8M84.0,946.6h3.8" stroke="#93AA00" fill="none" stroke-width="2.1"/><circle cx="85.9" cy="938.0" r="1.75" fill="#93AA00"/><path d="M89.2,833.6V860.6" stroke="#FF61C3" fill="none" stroke-width="2.4"/><path d="M87.3,833.6h3.8M87.3,860.6h3.8" stroke="#FF61C3" fill="none" stroke-width="2.1"/><circle cx="89.2" cy="842.8" r="1.75" fill="#FF61C3"/><path d="M92.5,926.4V946.6" stroke="#93AA00" fill="none" stroke-width="2.4"/><path d="M90.6,926.4h3.8M90.6,946.6h3.8" stroke="#93AA00" fill="none" stroke-width="2.1"/><circle cx="92.5" cy="938.0" r="1.75" fill="#93AA00"/><path d="M95.8,926.4V946.6" stroke="#93AA00" fill="none" stroke-width="2.4"/><path d="M93.9,926.4h3.8M93.9,946.6h3.8" stroke="#93AA00" fill="none" stroke-width="2.1"/><circle cx="95.8" cy="938.0" r="1.75" fill="#93AA00"/><path d="M99.1,926.4V946.6" stroke="#93AA00" fill="none" stroke-width="2.4"/><path d="M97.2,926.4h3.8M97.2,946.6h3.8" stroke="#93AA00" fill="none" stroke-width="2.1"/><circle cx="99.1" cy="938.0" r="1.75" fill="#93AA00"/><path d="M102.4,895.5V948.7" stroke="#00BA38" fill="none" stroke-width="2.4"/><path d="M100.5,895.5h3.8M100.5,948.7h3.8" stroke="#00BA38" fill="none" stroke-width="2.1"/><circle cx="102.4" cy="930.3" r="1.75" fill="#00BA38"/><path d="M105.7,834.4V860.0" stroke="#DB72FB" fill="none" stroke-width="2.4"/><path d="M103.8,834.4h3.8M103.8,860.0h3.8" stroke="#DB72FB" fill="none" stroke-width="2.1"/><circle cx="105.7" cy="842.6" r="1.75" fill="#DB72FB"/><path d="M109.0,895.5V948.7" stroke="#00BA38" fill="none" stroke-width="2.4"/><path d="M107.1,895.5h3.8M107.1,948.7h3.8" stroke="#00BA38" fill="none" stroke-width="2.1"/><circle cx="109.0" cy="930.3" r="1.75" fill="#00BA38"/><path d="M112.3,926.4V946.6" stroke="#93AA00" fill="none" stroke-width="2.4"/><path d="M110.4,926.4h3.8M110.4,946.6h3.8" stroke="#93AA00" fill="none" stroke-width="2.1"/><circle cx="112.3" cy="938.0" r="1.75" fill="#93AA00"/><path d="M115.7,833.6V860.6" stroke="#FF61C3" fill="none" stroke-width="2.4"/><path d="M113.8,833.6h3.8M113.8,860.6h3.8" stroke="#FF61C3" fill="none" stroke-width="2.1"/><circle cx="115.7" cy="842.8" r="1.75" fill="#FF61C3"/><path d="M119.0,834.4V860.0" stroke="#DB72FB" fill="none" stroke-width="2.4"/><path d="M117.1,834.4h3.8M117.1,860.0h3.8" stroke="#DB72FB" fill="none" stroke-width="2.1"/><circle cx="119.0" cy="842.6" r="1.75" fill="#DB72FB"/><path d="M122.3,895.5V948.7" stroke="#00BA38" fill="none" stroke-width="2.4"/><path d="M120.4,895.5h3.8M120.4,948.7h3.8" stroke="#00BA38" fill="none" stroke-width="2.1"/><circle cx="122.3" cy="930.3" r="1.75" fill="#00BA38"/><path d="M125.6,926.4V946.6" stroke="#93AA00" fill="none" stroke-width="2.4"/><path d="M123.7,926.4h3.8M123.7,946.6h3.8" stroke="#93AA00" fill="none" stroke-width="2.1"/><circle cx="125.6" cy="938.0" r="1.75" fill="#93AA00"/><path d="M128.9,932.3V955.2" stroke="#00C19F" fill="none" stroke-width="2.4"/><path d="M127.0,932.3h3.8M127.0,955.2h3.8" stroke="#00C19F" fill="none" stroke-width="2.1"/><circle cx="128.9" cy="946.6" r="1.75" fill="#00C19F"/><path d="M132.2,895.5V948.7" stroke="#00BA38" fill="none" stroke-width="2.4"/><path d="M130.3,895.5h3.8M130.3,948.7h3.8" stroke="#00BA38" fill="none" stroke-width="2.1"/><circle cx="132.2" cy="930.3" r="1.75" fill="#00BA38"/><path d="M135.5,919.4V949.5" stroke="#D39200" fill="none" stroke-width="2.4"/><path d="M133.6,919.4h3.8M133.6,949.5h3.8" stroke="#D39200" fill="none" stroke-width="2.1"/><circle cx="135.5" cy="935.5" r="1.75" fill="#D39200"/><path d="M138.8,926.4V946.6" stroke="#93AA00" fill="none" stroke-width="2.4"/><path d="M136.9,926.4h3.8M136.9,946.6h3.8" stroke="#93AA00" fill="none" stroke-width="2.1"/><circle cx="138.8" cy="938.0" r="1.75" fill="#93AA00"/><path d="M142.1,926.4V946.6" stroke="#93AA00" fill="none" stroke-width="2.4"/><path d="M140.2,926.4h3.8M140.2,946.6h3.8" stroke="#93AA00" fill="none" stroke-width="2.1"/><circle cx="142.1" cy="938.0" r="1.75" fill="#93AA00"/><path d="M145.4,926.4V946.6" stroke="#93AA00" fill="none" stroke-width="2.4"/><path d="M143.5,926.4h3.8M143.5,946.6h3.8" stroke="#93AA00" fill="none" stroke-width="2.1"/><circle cx="145.4" cy="938.0" r="1.75" fill="#93AA00"/><path d="M148.7,926.4V946.6" stroke="#93AA00" fill="none" stroke-width="2.4"/><path d="M146.8,926.4h3.8M146.8,946.6h3.8" stroke="#93AA00" fill="none" stroke-width="2.1"/><circle cx="148.7" cy="938.0" r="1.75" fill="#93AA00"/><path d="M152.1,923.1V954.0" stroke="#00B9E3" fill="none" stroke-width="2.4"/><path d="M150.2,923.1h3.8M150.2,954.0h3.8" stroke="#00B9E3" fill="none" stroke-width="2.1"/><circle cx="152.1" cy="945.2" r="1.75" fill="#00B9E3"/><path d="M155.4,926.4V946.6" stroke="#93AA00" fill="none" stroke-width="2.4"/><path d="M153.5,926.4h3.8M153.5,946.6h3.8" stroke="#93AA00" fill="none" stroke-width="2.1"/><circle cx="155.4" cy="938.0" r="1.75" fill="#93AA00"/><path d="M158.7,926.4V946.6" stroke="#93AA00" fill="none" stroke-width="2.4"/><path d="M156.8,926.4h3.8M156.8,946.6h3.8" stroke="#93AA00" fill="none" stroke-width="2.1"/><circle cx="158.7" cy="938.0" r="1.75" fill="#93AA00"/><path d="M162.0,926.4V946.6" stroke="#93AA00" fill="none" stroke-width="2.4"/><path d="M160.1,926.4h3.8M160.1,946.6h3.8" stroke="#93AA00" fill="none" stroke-width="2.1"/><circle cx="162.0" cy="938.0" r="1.75" fill="#93AA00"/><path d="M165.3,926.4V946.6" stroke="#93AA00" fill="none" stroke-width="2.4"/><path d="M163.4,926.4h3.8M163.4,946.6h3.8" stroke="#93AA00" fill="none" stroke-width="2.1"/><circle cx="165.3" cy="938.0" r="1.75" fill="#93AA00"/><path d="M168.6,919.4V949.5" stroke="#D39200" fill="none" stroke-width="2.4"/><path d="M166.7,919.4h3.8M166.7,949.5h3.8" stroke="#D39200" fill="none" stroke-width="2.1"/><circle cx="168.6" cy="935.5" r="1.75" fill="#D39200"/><path d="M171.9,926.4V946.6" stroke="#93AA00" fill="none" stroke-width="2.4"/><path d="M170.0,926.4h3.8M170.0,946.6h3.8" stroke="#93AA00" fill="none" stroke-width="2.1"/><circle cx="171.9" cy="938.0" r="1.75" fill="#93AA00"/><path d="M175.2,926.4V946.6" stroke="#93AA00" fill="none" stroke-width="2.4"/><path d="M173.3,926.4h3.8M173.3,946.6h3.8" stroke="#93AA00" fill="none" stroke-width="2.1"/><circle cx="175.2" cy="938.0" r="1.75" fill="#93AA00"/><path d="M178.5,919.4V949.5" stroke="#D39200" fill="none" stroke-width="2.4"/><path d="M176.6,919.4h3.8M176.6,949.5h3.8" stroke="#D39200" fill="none" stroke-width="2.1"/><circle cx="178.5" cy="935.5" r="1.75" fill="#D39200"/><path d="M181.8,926.4V946.6" stroke="#93AA00" fill="none" stroke-width="2.4"/><path d="M179.9,926.4h3.8M179.9,946.6h3.8" stroke="#93AA00" fill="none" stroke-width="2.1"/><circle cx="181.8" cy="938.0" r="1.75" fill="#93AA00"/><path d="M185.1,926.4V946.6" stroke="#93AA00" fill="none" stroke-width="2.4"/><path d="M183.2,926.4h3.8M183.2,946.6h3.8" stroke="#93AA00" fill="none" stroke-width="2.1"/><circle cx="185.1" cy="938.0" r="1.75" fill="#93AA00"/><path d="M188.5,895.5V948.7" stroke="#00BA38" fill="none" stroke-width="2.4"/><path d="M186.6,895.5h3.8M186.6,948.7h3.8" stroke="#00BA38" fill="none" stroke-width="2.1"/><circle cx="188.5" cy="930.3" r="1.75" fill="#00BA38"/><path d="M191.8,926.4V946.6" stroke="#93AA00" fill="none" stroke-width="2.4"/><path d="M189.9,926.4h3.8M189.9,946.6h3.8" stroke="#93AA00" fill="none" stroke-width="2.1"/><circle cx="191.8" cy="938.0" r="1.75" fill="#93AA00"/><path d="M195.1,919.4V949.5" stroke="#D39200" fill="none" stroke-width="2.4"/><path d="M193.2,919.4h3.8M193.2,949.5h3.8" stroke="#D39200" fill="none" stroke-width="2.1"/><circle cx="195.1" cy="935.5" r="1.75" fill="#D39200"/><path d="M198.4,932.3V955.2" stroke="#00C19F" fill="none" stroke-width="2.4"/><path d="M196.5,932.3h3.8M196.5,955.2h3.8" stroke="#00C19F" fill="none" stroke-width="2.1"/><circle cx="198.4" cy="946.6" r="1.75" fill="#00C19F"/><path d="M201.7,926.4V946.6" stroke="#93AA00" fill="none" stroke-width="2.4"/><path d="M199.8,926.4h3.8M199.8,946.6h3.8" stroke="#93AA00" fill="none" stroke-width="2.1"/><circle cx="201.7" cy="938.0" r="1.75" fill="#93AA00"/><path d="M205.0,895.5V948.7" stroke="#00BA38" fill="none" stroke-width="2.4"/><path d="M203.1,895.5h3.8M203.1,948.7h3.8" stroke="#00BA38" fill="none" stroke-width="2.1"/><circle cx="205.0" cy="930.3" r="1.75" fill="#00BA38"/><path d="M208.3,926.4V946.6" stroke="#93AA00" fill="none" stroke-width="2.4"/><path d="M206.4,926.4h3.8M206.4,946.6h3.8" stroke="#93AA00" fill="none" stroke-width="2.1"/><circle cx="208.3" cy="938.0" r="1.75" fill="#93AA00"/><path d="M211.6,926.4V946.6" stroke="#93AA00" fill="none" stroke-width="2.4"/><path d="M209.7,926.4h3.8M209.7,946.6h3.8" stroke="#93AA00" fill="none" stroke-width="2.1"/><circle cx="211.6" cy="938.0" r="1.75" fill="#93AA00"/><path d="M214.9,926.4V946.6" stroke="#93AA00" fill="none" stroke-width="2.4"/><path d="M213.0,926.4h3.8M213.0,946.6h3.8" stroke="#93AA00" fill="none" stroke-width="2.1"/><circle cx="214.9" cy="938.0" r="1.75" fill="#93AA00"/><path d="M218.2,919.4V949.5" stroke="#D39200" fill="none" stroke-width="2.4"/><path d="M216.3,919.4h3.8M216.3,949.5h3.8" stroke="#D39200" fill="none" stroke-width="2.1"/><circle cx="218.2" cy="935.5" r="1.75" fill="#D39200"/><path d="M221.5,926.4V946.6" stroke="#93AA00" fill="none" stroke-width="2.4"/><path d="M219.6,926.4h3.8M219.6,946.6h3.8" stroke="#93AA00" fill="none" stroke-width="2.1"/><circle cx="221.5" cy="938.0" r="1.75" fill="#93AA00"/><path d="M224.9,919.4V949.5" stroke="#D39200" fill="none" stroke-width="2.4"/><path d="M223.0,919.4h3.8M223.0,949.5h3.8" stroke="#D39200" fill="none" stroke-width="2.1"/><circle cx="224.9" cy="935.5" r="1.75" fill="#D39200"/><path d="M228.2,926.4V946.6" stroke="#93AA00" fill="none" stroke-width="2.4"/><path d="M226.3,926.4h3.8M226.3,946.6h3.8" stroke="#93AA00" fill="none" stroke-width="2.1"/><circle cx="228.2" cy="938.0" r="1.75" fill="#93AA00"/><path d="M231.5,833.6V860.6" stroke="#FF61C3" fill="none" stroke-width="2.4"/><path d="M229.6,833.6h3.8M229.6,860.6h3.8" stroke="#FF61C3" fill="none" stroke-width="2.1"/><circle cx="231.5" cy="842.8" r="1.75" fill="#FF61C3"/><path d="M234.8,926.4V946.6" stroke="#93AA00" fill="none" stroke-width="2.4"/><path d="M232.9,926.4h3.8M232.9,946.6h3.8" stroke="#93AA00" fill="none" stroke-width="2.1"/><circle cx="234.8" cy="938.0" r="1.75" fill="#93AA00"/><path d="M238.1,923.1V950.1" stroke="#93AA00" fill="none" stroke-width="2.4"/><path d="M236.2,923.1h3.8M236.2,950.1h3.8" stroke="#93AA00" fill="none" stroke-width="2.1"/><circle cx="238.1" cy="938.8" r="1.75" fill="#93AA00"/><path d="M241.4,833.6V860.6" stroke="#FF61C3" fill="none" stroke-width="2.4"/><path d="M239.5,833.6h3.8M239.5,860.6h3.8" stroke="#FF61C3" fill="none" stroke-width="2.1"/><circle cx="241.4" cy="842.8" r="1.75" fill="#FF61C3"/><path d="M244.7,919.4V949.5" stroke="#D39200" fill="none" stroke-width="2.4"/><path d="M242.8,919.4h3.8M242.8,949.5h3.8" stroke="#D39200" fill="none" stroke-width="2.1"/><circle cx="244.7" cy="935.5" r="1.75" fill="#D39200"/><path d="M248.0,923.1V954.0" stroke="#00B9E3" fill="none" stroke-width="2.4"/><path d="M246.1,923.1h3.8M246.1,954.0h3.8" stroke="#00B9E3" fill="none" stroke-width="2.1"/><circle cx="248.0" cy="945.2" r="1.75" fill="#00B9E3"/><path d="M251.3,926.4V946.6" stroke="#93AA00" fill="none" stroke-width="2.4"/><path d="M249.4,926.4h3.8M249.4,946.6h3.8" stroke="#93AA00" fill="none" stroke-width="2.1"/><circle cx="251.3" cy="938.0" r="1.75" fill="#93AA00"/><path d="M254.6,926.4V946.6" stroke="#93AA00" fill="none" stroke-width="2.4"/><path d="M252.7,926.4h3.8M252.7,946.6h3.8" stroke="#93AA00" fill="none" stroke-width="2.1"/><circle cx="254.6" cy="938.0" r="1.75" fill="#93AA00"/>
<rect x="48.0" y="823.4" width="217.4" height="140.9" fill="none" stroke="#737373" stroke-width="1.1"/>
<rect x="48.0" y="812.4" width="217.4" height="11.0" fill="#cfcfcf" stroke="#666" stroke-width="1.2"/>
<text x="99.4" y="821.9" textLength="114.9" style="font-family:'Liberation Sans',Arial,sans-serif;font-weight:bold;fill:#000;stroke:#000;stroke-width:0.25;font-size:10.2px">FRG1,chr4,191118997</text>
<line x1="45.0" x2="48.0" y1="958.8" y2="958.8" stroke="#000" stroke-width="2"/><text x="24.1" y="962.6" textLength="18.1" style="font-family:'Liberation Sans',Arial,sans-serif;font-weight:bold;fill:#000;stroke:#000;stroke-width:0.25;font-size:10.3px">0.00</text><line x1="45.0" x2="48.0" y1="926.4" y2="926.4" stroke="#000" stroke-width="2"/><text x="24.1" y="930.2" textLength="18.1" style="font-family:'Liberation Sans',Arial,sans-serif;font-weight:bold;fill:#000;stroke:#000;stroke-width:0.25;font-size:10.3px">0.25</text><line x1="45.0" x2="48.0" y1="894.0" y2="894.0" stroke="#000" stroke-width="2"/><text x="24.1" y="897.8" textLength="18.1" style="font-family:'Liberation Sans',Arial,sans-serif;font-weight:bold;fill:#000;stroke:#000;stroke-width:0.25;font-size:10.3px">0.50</text><line x1="45.0" x2="48.0" y1="861.5" y2="861.5" stroke="#000" stroke-width="2"/><text x="24.1" y="865.3" textLength="18.1" style="font-family:'Liberation Sans',Arial,sans-serif;font-weight:bold;fill:#000;stroke:#000;stroke-width:0.25;font-size:10.3px">0.75</text><line x1="45.0" x2="48.0" y1="829.1" y2="829.1" stroke="#000" stroke-width="2"/><text x="24.1" y="832.9" textLength="18.1" style="font-family:'Liberation Sans',Arial,sans-serif;font-weight:bold;fill:#000;stroke:#000;stroke-width:0.25;font-size:10.3px">1.00</text>
<rect x="268.8" y="823.4" width="217.5" height="140.9" fill="#fff"/>
<line x1="268.8" x2="486.3" y1="942.6" y2="942.6" stroke="#f4f4f4" stroke-width="0.9"/><line x1="268.8" x2="486.3" y1="910.2" y2="910.2" stroke="#f4f4f4" stroke-width="0.9"/><line x1="268.8" x2="486.3" y1="877.7" y2="877.7" stroke="#f4f4f4" stroke-width="0.9"/><line x1="268.8" x2="486.3" y1="845.3" y2="845.3" stroke="#f4f4f4" stroke-width="0.9"/><line y1="823.4" y2="964.3" x1="309.6" x2="309.6" stroke="#f4f4f4" stroke-width="0.9"/><line y1="823.4" y2="964.3" x1="375.8" x2="375.8" stroke="#f4f4f4" stroke-width="0.9"/><line y1="823.4" y2="964.3" x1="442.0" x2="442.0" stroke="#f4f4f4" stroke-width="0.9"/><line x1="268.8" x2="486.3" y1="958.8" y2="958.8" stroke="#e4e4e4" stroke-width="1"/><line x1="268.8" x2="486.3" y1="926.4" y2="926.4" stroke="#e4e4e4" stroke-width="1"/><line x1="268.8" x2="486.3" y1="894.0" y2="894.0" stroke="#e4e4e4" stroke-width="1"/><line x1="268.8" x2="486.3" y1="861.5" y2="861.5" stroke="#e4e4e4" stroke-width="1"/><line x1="268.8" x2="486.3" y1="829.1" y2="829.1" stroke="#e4e4e4" stroke-width="1"/><line y1="823.4" y2="964.3" x1="276.5" x2="276.5" stroke="#e4e4e4" stroke-width="1"/><line y1="823.4" y2="964.3" x1="342.7" x2="342.7" stroke="#e4e4e4" stroke-width="1"/><line y1="823.4" y2="964.3" x1="408.9" x2="408.9" stroke="#e4e4e4" stroke-width="1"/><line y1="823.4" y2="964.3" x1="475.1" x2="475.1" stroke="#e4e4e4" stroke-width="1"/>
<rect x="278.2" y="956.4" width="3.4" height="3.4" fill="#F8766D"/><path d="M283.2,918.2V940.3" stroke="#93AA00" fill="none" stroke-width="2.4"/><path d="M281.3,918.2h3.8M281.3,940.3h3.8" stroke="#93AA00" fill="none" stroke-width="2.1"/><circle cx="283.2" cy="930.9" r="1.75" fill="#93AA00"/><path d="M286.5,928.8V954.4" stroke="#00B9E3" fill="none" stroke-width="2.4"/><path d="M284.6,928.8h3.8M284.6,954.4h3.8" stroke="#00B9E3" fill="none" stroke-width="2.1"/><circle cx="286.5" cy="946.6" r="1.75" fill="#00B9E3"/><path d="M289.8,918.2V940.3" stroke="#93AA00" fill="none" stroke-width="2.4"/><path d="M287.9,918.2h3.8M287.9,940.3h3.8" stroke="#93AA00" fill="none" stroke-width="2.1"/><circle cx="289.8" cy="930.9" r="1.75" fill="#93AA00"/><path d="M293.1,840.0V939.5" stroke="#619CFF" fill="none" stroke-width="2.4"/><path d="M291.2,840.0h3.8M291.2,939.5h3.8" stroke="#619CFF" fill="none" stroke-width="2.1"/><circle cx="293.1" cy="883.8" r="1.75" fill="#619CFF"/><path d="M296.4,918.2V940.3" stroke="#93AA00" fill="none" stroke-width="2.4"/><path d="M294.5,918.2h3.8M294.5,940.3h3.8" stroke="#93AA00" fill="none" stroke-width="2.1"/><circle cx="296.4" cy="930.9" r="1.75" fill="#93AA00"/><path d="M299.7,918.2V940.3" stroke="#93AA00" fill="none" stroke-width="2.4"/><path d="M297.8,918.2h3.8M297.8,940.3h3.8" stroke="#93AA00" fill="none" stroke-width="2.1"/><circle cx="299.7" cy="930.9" r="1.75" fill="#93AA00"/><path d="M303.0,918.2V940.3" stroke="#93AA00" fill="none" stroke-width="2.4"/><path d="M301.1,918.2h3.8M301.1,940.3h3.8" stroke="#93AA00" fill="none" stroke-width="2.1"/><circle cx="303.0" cy="930.9" r="1.75" fill="#93AA00"/><path d="M306.3,918.2V940.3" stroke="#93AA00" fill="none" stroke-width="2.4"/><path d="M304.4,918.2h3.8M304.4,940.3h3.8" stroke="#93AA00" fill="none" stroke-width="2.1"/><circle cx="306.3" cy="930.9" r="1.75" fill="#93AA00"/><path d="M309.6,936.0V953.7" stroke="#FF61C3" fill="none" stroke-width="2.4"/><path d="M307.7,936.0h3.8M307.7,953.7h3.8" stroke="#FF61C3" fill="none" stroke-width="2.1"/><circle cx="309.6" cy="948.0" r="1.75" fill="#FF61C3"/><path d="M312.9,918.2V940.3" stroke="#93AA00" fill="none" stroke-width="2.4"/><path d="M311.0,918.2h3.8M311.0,940.3h3.8" stroke="#93AA00" fill="none" stroke-width="2.1"/><circle cx="312.9" cy="930.9" r="1.75" fill="#93AA00"/><path d="M316.2,918.2V940.3" stroke="#93AA00" fill="none" stroke-width="2.4"/><path d="M314.3,918.2h3.8M314.3,940.3h3.8" stroke="#93AA00" fill="none" stroke-width="2.1"/><circle cx="316.2" cy="930.9" r="1.75" fill="#93AA00"/><path d="M319.6,918.2V940.3" stroke="#93AA00" fill="none" stroke-width="2.4"/><path d="M317.7,918.2h3.8M317.7,940.3h3.8" stroke="#93AA00" fill="none" stroke-width="2.1"/><circle cx="319.6" cy="930.9" r="1.75" fill="#93AA00"/><path d="M322.9,890.4V943.8" stroke="#00BA38" fill="none" stroke-width="2.4"/><path d="M321.0,890.4h3.8M321.0,943.8h3.8" stroke="#00BA38" fill="none" stroke-width="2.1"/><circle cx="322.9" cy="923.1" r="1.75" fill="#00BA38"/><path d="M326.2,903.3V948.0" stroke="#DB72FB" fill="none" stroke-width="2.4"/><path d="M324.3,903.3h3.8M324.3,948.0h3.8" stroke="#DB72FB" fill="none" stroke-width="2.1"/><circle cx="326.2" cy="932.1" r="1.75" fill="#DB72FB"/><path d="M329.5,890.4V943.8" stroke="#00BA38" fill="none" stroke-width="2.4"/><path d="M327.6,890.4h3.8M327.6,943.8h3.8" stroke="#00BA38" fill="none" stroke-width="2.1"/><circle cx="329.5" cy="923.1" r="1.75" fill="#00BA38"/><path d="M332.8,918.2V940.3" stroke="#93AA00" fill="none" stroke-width="2.4"/><path d="M330.9,918.2h3.8M330.9,940.3h3.8" stroke="#93AA00" fill="none" stroke-width="2.1"/><circle cx="332.8" cy="930.9" r="1.75" fill="#93AA00"/><path d="M336.1,936.0V953.7" stroke="#FF61C3" fill="none" stroke-width="2.4"/><path d="M334.2,936.0h3.8M334.2,953.7h3.8" stroke="#FF61C3" fill="none" stroke-width="2.1"/><circle cx="336.1" cy="948.0" r="1.75" fill="#FF61C3"/><path d="M339.4,903.3V948.0" stroke="#DB72FB" fill="none" stroke-width="2.4"/><path d="M337.5,903.3h3.8M337.5,948.0h3.8" stroke="#DB72FB" fill="none" stroke-width="2.1"/><circle cx="339.4" cy="932.1" r="1.75" fill="#DB72FB"/><path d="M342.7,890.4V943.8" stroke="#00BA38" fill="none" stroke-width="2.4"/><path d="M340.8,890.4h3.8M340.8,943.8h3.8" stroke="#00BA38" fill="none" stroke-width="2.1"/><circle cx="342.7" cy="923.1" r="1.75" fill="#00BA38"/><path d="M346.0,918.2V940.3" stroke="#93AA00" fill="none" stroke-width="2.4"/><path d="M344.1,918.2h3.8M344.1,940.3h3.8" stroke="#93AA00" fill="none" stroke-width="2.1"/><circle cx="346.0" cy="930.9" r="1.75" fill="#93AA00"/><path d="M349.3,911.1V957.2" stroke="#00C19F" fill="none" stroke-width="2.4"/><path d="M347.4,911.1h3.8M347.4,957.2h3.8" stroke="#00C19F" fill="none" stroke-width="2.1"/><circle cx="349.3" cy="948.7" r="1.75" fill="#00C19F"/><path d="M352.6,890.4V943.8" stroke="#00BA38" fill="none" stroke-width="2.4"/><path d="M350.7,890.4h3.8M350.7,943.8h3.8" stroke="#00BA38" fill="none" stroke-width="2.1"/><circle cx="352.6" cy="923.1" r="1.75" fill="#00BA38"/><path d="M356.0,881.9V933.8" stroke="#D39200" fill="none" stroke-width="2.4"/><path d="M354.1,881.9h3.8M354.1,933.8h3.8" stroke="#D39200" fill="none" stroke-width="2.1"/><circle cx="356.0" cy="911.1" r="1.75" fill="#D39200"/><path d="M359.3,918.2V940.3" stroke="#93AA00" fill="none" stroke-width="2.4"/><path d="M357.4,918.2h3.8M357.4,940.3h3.8" stroke="#93AA00" fill="none" stroke-width="2.1"/><circle cx="359.3" cy="930.9" r="1.75" fill="#93AA00"/><path d="M362.6,918.2V940.3" stroke="#93AA00" fill="none" stroke-width="2.4"/><path d="M360.7,918.2h3.8M360.7,940.3h3.8" stroke="#93AA00" fill="none" stroke-width="2.1"/><circle cx="362.6" cy="930.9" r="1.75" fill="#93AA00"/><path d="M365.9,918.2V940.3" stroke="#93AA00" fill="none" stroke-width="2.4"/><path d="M364.0,918.2h3.8M364.0,940.3h3.8" stroke="#93AA00" fill="none" stroke-width="2.1"/><circle cx="365.9" cy="930.9" r="1.75" fill="#93AA00"/><path d="M369.2,918.2V940.3" stroke="#93AA00" fill="none" stroke-width="2.4"/><path d="M367.3,918.2h3.8M367.3,940.3h3.8" stroke="#93AA00" fill="none" stroke-width="2.1"/><circle cx="369.2" cy="930.9" r="1.75" fill="#93AA00"/><path d="M372.5,928.8V954.4" stroke="#00B9E3" fill="none" stroke-width="2.4"/><path d="M370.6,928.8h3.8M370.6,954.4h3.8" stroke="#00B9E3" fill="none" stroke-width="2.1"/><circle cx="372.5" cy="946.6" r="1.75" fill="#00B9E3"/><path d="M375.8,918.2V940.3" stroke="#93AA00" fill="none" stroke-width="2.4"/><path d="M373.9,918.2h3.8M373.9,940.3h3.8" stroke="#93AA00" fill="none" stroke-width="2.1"/><circle cx="375.8" cy="930.9" r="1.75" fill="#93AA00"/><path d="M379.1,918.2V940.3" stroke="#93AA00" fill="none" stroke-width="2.4"/><path d="M377.2,918.2h3.8M377.2,940.3h3.8" stroke="#93AA00" fill="none" stroke-width="2.1"/><circle cx="379.1" cy="930.9" r="1.75" fill="#93AA00"/><path d="M382.4,918.2V940.3" stroke="#93AA00" fill="none" stroke-width="2.4"/><path d="M380.5,918.2h3.8M380.5,940.3h3.8" stroke="#93AA00" fill="none" stroke-width="2.1"/><circle cx="382.4" cy="930.9" r="1.75" fill="#93AA00"/><path d="M385.7,918.2V940.3" stroke="#93AA00" fill="none" stroke-width="2.4"/><path d="M383.8,918.2h3.8M383.8,940.3h3.8" stroke="#93AA00" fill="none" stroke-width="2.1"/><circle cx="385.7" cy="930.9" r="1.75" fill="#93AA00"/><path d="M389.0,881.9V933.8" stroke="#D39200" fill="none" stroke-width="2.4"/><path d="M387.1,881.9h3.8M387.1,933.8h3.8" stroke="#D39200" fill="none" stroke-width="2.1"/><circle cx="389.0" cy="911.1" r="1.75" fill="#D39200"/><path d="M392.4,918.2V940.3" stroke="#93AA00" fill="none" stroke-width="2.4"/><path d="M390.5,918.2h3.8M390.5,940.3h3.8" stroke="#93AA00" fill="none" stroke-width="2.1"/><circle cx="392.4" cy="930.9" r="1.75" fill="#93AA00"/><path d="M395.7,918.2V940.3" stroke="#93AA00" fill="none" stroke-width="2.4"/><path d="M393.8,918.2h3.8M393.8,940.3h3.8" stroke="#93AA00" fill="none" stroke-width="2.1"/><circle cx="395.7" cy="930.9" r="1.75" fill="#93AA00"/><path d="M399.0,881.9V933.8" stroke="#D39200" fill="none" stroke-width="2.4"/><path d="M397.1,881.9h3.8M397.1,933.8h3.8" stroke="#D39200" fill="none" stroke-width="2.1"/><circle cx="399.0" cy="911.1" r="1.75" fill="#D39200"/><path d="M402.3,918.2V940.3" stroke="#93AA00" fill="none" stroke-width="2.4"/><path d="M400.4,918.2h3.8M400.4,940.3h3.8" stroke="#93AA00" fill="none" stroke-width="2.1"/><circle cx="402.3" cy="930.9" r="1.75" fill="#93AA00"/><path d="M405.6,918.2V940.3" stroke="#93AA00" fill="none" stroke-width="2.4"/><path d="M403.7,918.2h3.8M403.7,940.3h3.8" stroke="#93AA00" fill="none" stroke-width="2.1"/><circle cx="405.6" cy="930.9" r="1.75" fill="#93AA00"/><path d="M408.9,890.4V943.8" stroke="#00BA38" fill="none" stroke-width="2.4"/><path d="M407.0,890.4h3.8M407.0,943.8h3.8" stroke="#00BA38" fill="none" stroke-width="2.1"/><circle cx="408.9" cy="923.1" r="1.75" fill="#00BA38"/><path d="M412.2,918.2V940.3" stroke="#93AA00" fill="none" stroke-width="2.4"/><path d="M410.3,918.2h3.8M410.3,940.3h3.8" stroke="#93AA00" fill="none" stroke-width="2.1"/><circle cx="412.2" cy="930.9" r="1.75" fill="#93AA00"/><path d="M415.5,881.9V933.8" stroke="#D39200" fill="none" stroke-width="2.4"/><path d="M413.6,881.9h3.8M413.6,933.8h3.8" stroke="#D39200" fill="none" stroke-width="2.1"/><circle cx="415.5" cy="911.1" r="1.75" fill="#D39200"/><path d="M418.8,911.1V957.2" stroke="#00C19F" fill="none" stroke-width="2.4"/><path d="M416.9,911.1h3.8M416.9,957.2h3.8" stroke="#00C19F" fill="none" stroke-width="2.1"/><circle cx="418.8" cy="948.7" r="1.75" fill="#00C19F"/><path d="M422.1,918.2V940.3" stroke="#93AA00" fill="none" stroke-width="2.4"/><path d="M420.2,918.2h3.8M420.2,940.3h3.8" stroke="#93AA00" fill="none" stroke-width="2.1"/><circle cx="422.1" cy="930.9" r="1.75" fill="#93AA00"/><path d="M425.4,890.4V943.8" stroke="#00BA38" fill="none" stroke-width="2.4"/><path d="M423.5,890.4h3.8M423.5,943.8h3.8" stroke="#00BA38" fill="none" stroke-width="2.1"/><circle cx="425.4" cy="923.1" r="1.75" fill="#00BA38"/><path d="M428.8,918.2V940.3" stroke="#93AA00" fill="none" stroke-width="2.4"/><path d="M426.9,918.2h3.8M426.9,940.3h3.8" stroke="#93AA00" fill="none" stroke-width="2.1"/><circle cx="428.8" cy="930.9" r="1.75" fill="#93AA00"/><path d="M432.1,918.2V940.3" stroke="#93AA00" fill="none" stroke-width="2.4"/><path d="M430.2,918.2h3.8M430.2,940.3h3.8" stroke="#93AA00" fill="none" stroke-width="2.1"/><circle cx="432.1" cy="930.9" r="1.75" fill="#93AA00"/><path d="M435.4,918.2V940.3" stroke="#93AA00" fill="none" stroke-width="2.4"/><path d="M433.5,918.2h3.8M433.5,940.3h3.8" stroke="#93AA00" fill="none" stroke-width="2.1"/><circle cx="435.4" cy="930.9" r="1.75" fill="#93AA00"/><path d="M438.7,881.9V933.8" stroke="#D39200" fill="none" stroke-width="2.4"/><path d="M436.8,881.9h3.8M436.8,933.8h3.8" stroke="#D39200" fill="none" stroke-width="2.1"/><circle cx="438.7" cy="911.1" r="1.75" fill="#D39200"/><path d="M442.0,918.2V940.3" stroke="#93AA00" fill="none" stroke-width="2.4"/><path d="M440.1,918.2h3.8M440.1,940.3h3.8" stroke="#93AA00" fill="none" stroke-width="2.1"/><circle cx="442.0" cy="930.9" r="1.75" fill="#93AA00"/><path d="M445.3,881.9V933.8" stroke="#D39200" fill="none" stroke-width="2.4"/><path d="M443.4,881.9h3.8M443.4,933.8h3.8" stroke="#D39200" fill="none" stroke-width="2.1"/><circle cx="445.3" cy="911.1" r="1.75" fill="#D39200"/><path d="M448.6,918.2V940.3" stroke="#93AA00" fill="none" stroke-width="2.4"/><path d="M446.7,918.2h3.8M446.7,940.3h3.8" stroke="#93AA00" fill="none" stroke-width="2.1"/><circle cx="448.6" cy="930.9" r="1.75" fill="#93AA00"/><path d="M451.9,936.0V953.7" stroke="#FF61C3" fill="none" stroke-width="2.4"/><path d="M450.0,936.0h3.8M450.0,953.7h3.8" stroke="#FF61C3" fill="none" stroke-width="2.1"/><circle cx="451.9" cy="948.0" r="1.75" fill="#FF61C3"/><path d="M455.2,918.2V940.3" stroke="#93AA00" fill="none" stroke-width="2.4"/><path d="M453.3,918.2h3.8M453.3,940.3h3.8" stroke="#93AA00" fill="none" stroke-width="2.1"/><circle cx="455.2" cy="930.9" r="1.75" fill="#93AA00"/><path d="M458.5,882.7V929.5" stroke="#93AA00" fill="none" stroke-width="2.4"/><path d="M456.6,882.7h3.8M456.6,929.5h3.8" stroke="#93AA00" fill="none" stroke-width="2.1"/><circle cx="458.5" cy="908.2" r="1.75" fill="#93AA00"/><path d="M461.8,936.0V953.7" stroke="#FF61C3" fill="none" stroke-width="2.4"/><path d="M459.9,936.0h3.8M459.9,953.7h3.8" stroke="#FF61C3" fill="none" stroke-width="2.1"/><circle cx="461.8" cy="948.0" r="1.75" fill="#FF61C3"/><path d="M465.2,881.9V933.8" stroke="#D39200" fill="none" stroke-width="2.4"/><path d="M463.3,881.9h3.8M463.3,933.8h3.8" stroke="#D39200" fill="none" stroke-width="2.1"/><circle cx="465.2" cy="911.1" r="1.75" fill="#D39200"/><path d="M468.5,928.8V954.4" stroke="#00B9E3" fill="none" stroke-width="2.4"/><path d="M466.6,928.8h3.8M466.6,954.4h3.8" stroke="#00B9E3" fill="none" stroke-width="2.1"/><circle cx="468.5" cy="946.6" r="1.75" fill="#00B9E3"/><path d="M471.8,918.2V940.3" stroke="#93AA00" fill="none" stroke-width="2.4"/><path d="M469.9,918.2h3.8M469.9,940.3h3.8" stroke="#93AA00" fill="none" stroke-width="2.1"/><circle cx="471.8" cy="930.9" r="1.75" fill="#93AA00"/><path d="M475.1,918.2V940.3" stroke="#93AA00" fill="none" stroke-width="2.4"/><path d="M473.2,918.2h3.8M473.2,940.3h3.8" stroke="#93AA00" fill="none" stroke-width="2.1"/><circle cx="475.1" cy="930.9" r="1.75" fill="#93AA00"/>
<rect x="268.8" y="823.4" width="217.5" height="140.9" fill="none" stroke="#737373" stroke-width="1.1"/>
<rect x="268.8" y="812.4" width="217.5" height="11.0" fill="#cfcfcf" stroke="#666" stroke-width="1.2"/>
<text x="321.4" y="821.9" textLength="110.0" style="font-family:'Liberation Sans',Arial,sans-serif;font-weight:bold;fill:#000;stroke:#000;stroke-width:0.25;font-size:10.2px">ASNS,chr7,97331641</text>
<text transform="translate(9.4,760.4) rotate(-90)" textLength="118.0" style="font-family:'Liberation Sans',Arial,sans-serif;font-weight:bold;fill:#000;stroke:#000;stroke-width:0.25;font-size:11.6px">probability of mutation</text>
<text x="254.8" y="991.4" textLength="21.4" style="font-family:'Liberation Sans',Arial,sans-serif;font-weight:bold;fill:#000;stroke:#000;stroke-width:0.25;font-size:10.5px">cell</text>
<text x="504.2" y="666.6" textLength="28.6" lengthAdjust="spacingAndGlyphs" style="font-family:'Liberation Sans',Arial,sans-serif;font-weight:bold;fill:#000;stroke:#000;stroke-width:0.25;font-size:10.2px">clone</text>
<rect x="503.5" y="668.3" width="12.3" height="87.5" fill="#d4d4d4"/>
<rect x="505" y="669.9" width="9.3" height="8" fill="#fff"/>
<line x1="505.3" x2="514" y1="673.9" y2="673.9" stroke="#F8766D" stroke-width="1.9"/><circle cx="509.6" cy="673.9" r="1.5" fill="#F8766D"/>
<text x="516.3" y="677.3" style="font-family:'Liberation Sans',Arial,sans-serif;font-weight:bold;fill:#000;stroke:#000;stroke-width:0.25;font-size:9.8px">a</text>
<rect x="505" y="679.5" width="9.3" height="8" fill="#fff"/>
<line x1="505.3" x2="514" y1="683.5" y2="683.5" stroke="#D39200" stroke-width="1.9"/><circle cx="509.6" cy="683.5" r="1.5" fill="#D39200"/>
<text x="516.3" y="686.9" style="font-family:'Liberation Sans',Arial,sans-serif;font-weight:bold;fill:#000;stroke:#000;stroke-width:0.25;font-size:9.8px">b</text>
<rect x="505" y="689.1" width="9.3" height="8" fill="#fff"/>
<line x1="505.3" x2="514" y1="693.1" y2="693.1" stroke="#93AA00" stroke-width="1.9"/><circle cx="509.6" cy="693.1" r="1.5" fill="#93AA00"/>
<text x="516.3" y="696.5" style="font-family:'Liberation Sans',Arial,sans-serif;font-weight:bold;fill:#000;stroke:#000;stroke-width:0.25;font-size:9.8px">c</text>
<rect x="505" y="698.6" width="9.3" height="8" fill="#fff"/>
<line x1="505.3" x2="514" y1="702.6" y2="702.6" stroke="#00BA38" stroke-width="1.9"/><circle cx="509.6" cy="702.6" r="1.5" fill="#00BA38"/>
<text x="516.3" y="706.0" style="font-family:'Liberation Sans',Arial,sans-serif;font-weight:bold;fill:#000;stroke:#000;stroke-width:0.25;font-size:9.8px">d</text>
<rect x="505" y="708.2" width="9.3" height="8" fill="#fff"/>
<line x1="505.3" x2="514" y1="712.2" y2="712.2" stroke="#00C19F" stroke-width="1.9"/><circle cx="509.6" cy="712.2" r="1.5" fill="#00C19F"/>
<text x="516.3" y="715.6" style="font-family:'Liberation Sans',Arial,sans-serif;font-weight:bold;fill:#000;stroke:#000;stroke-width:0.25;font-size:9.8px">e</text>
<rect x="505" y="717.8" width="9.3" height="8" fill="#fff"/>
<line x1="505.3" x2="514" y1="721.8" y2="721.8" stroke="#00B9E3" stroke-width="1.9"/><circle cx="509.6" cy="721.8" r="1.5" fill="#00B9E3"/>
<text x="516.3" y="725.2" style="font-family:'Liberation Sans',Arial,sans-serif;font-weight:bold;fill:#000;stroke:#000;stroke-width:0.25;font-size:9.8px">f</text>
<rect x="505" y="727.4" width="9.3" height="8" fill="#fff"/>
<line x1="505.3" x2="514" y1="731.4" y2="731.4" stroke="#619CFF" stroke-width="1.9"/><circle cx="509.6" cy="731.4" r="1.5" fill="#619CFF"/>
<text x="516.3" y="734.8" style="font-family:'Liberation Sans',Arial,sans-serif;font-weight:bold;fill:#000;stroke:#000;stroke-width:0.25;font-size:9.8px">g</text>
<rect x="505" y="737.0" width="9.3" height="8" fill="#fff"/>
<line x1="505.3" x2="514" y1="741.0" y2="741.0" stroke="#DB72FB" stroke-width="1.9"/><circle cx="509.6" cy="741.0" r="1.5" fill="#DB72FB"/>
<text x="516.3" y="744.4" style="font-family:'Liberation Sans',Arial,sans-serif;font-weight:bold;fill:#000;stroke:#000;stroke-width:0.25;font-size:9.8px">h</text>
<rect x="505" y="746.5" width="9.3" height="8" fill="#fff"/>
<line x1="505.3" x2="514" y1="750.5" y2="750.5" stroke="#FF61C3" stroke-width="1.9"/><circle cx="509.6" cy="750.5" r="1.5" fill="#FF61C3"/>
<text x="516.3" y="753.9" style="font-family:'Liberation Sans',Arial,sans-serif;font-weight:bold;fill:#000;stroke:#000;stroke-width:0.25;font-size:9.8px">i</text>
</g>
</svg>
</body></html>
